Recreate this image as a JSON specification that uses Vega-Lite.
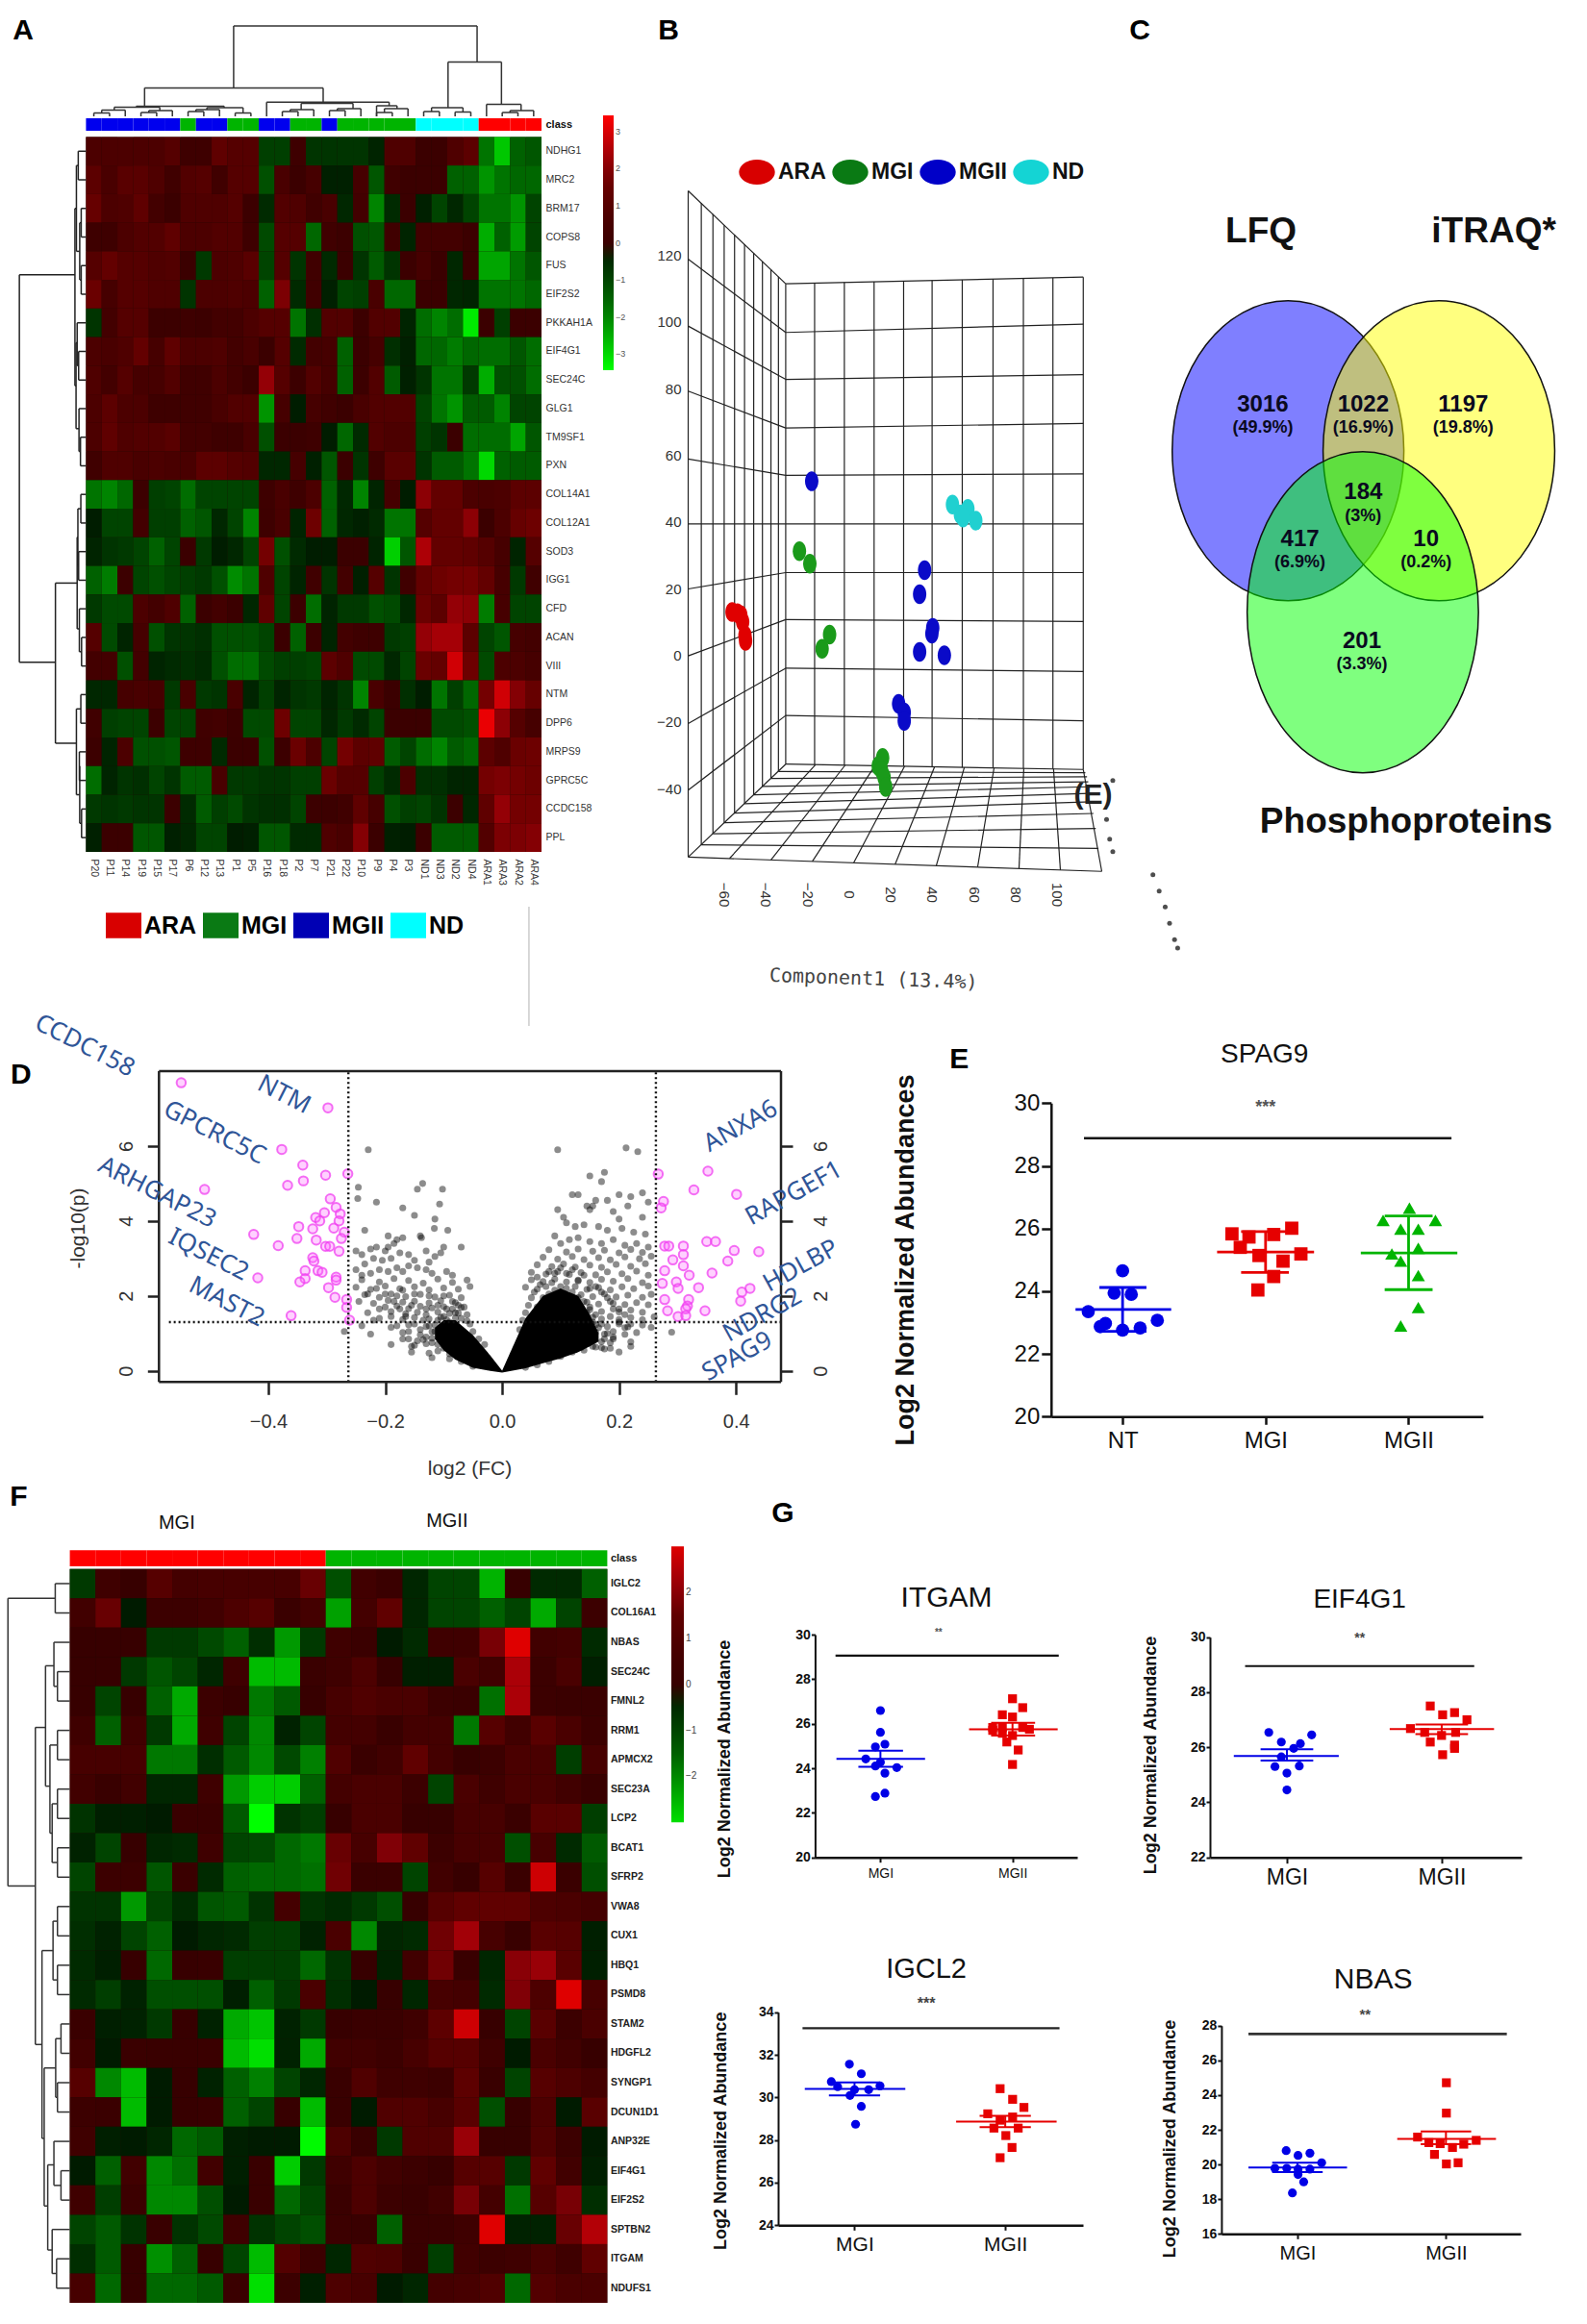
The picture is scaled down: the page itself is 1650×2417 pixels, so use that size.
{"$schema":"https://vega.github.io/schema/vega-lite/v6.json","width":1650,"height":2417,"padding":0,"autosize":"none","background":"white","config":{"view":{"stroke":null},"font":"Liberation Sans","axis":{"grid":false,"labelOverlap":false,"labelFlush":false,"labelColor":"#111","titleColor":"#111"}},"resolve":{"scale":{"x":"independent","y":"independent","color":"independent","shape":"independent"},"axis":{"x":"independent","y":"independent"},"legend":{"color":"independent","shape":"independent"}},"layer":[
{"data":{"values":[{"a":0,"b":29,"c":0,"d":25}]},"mark":{"type":"rect","color":"#1c0a04"},"encoding":{"x":{"field":"a","type":"quantitative","scale":{"domain":[0,29],"range":[89.4,563],"nice":false,"zero":false},"axis":null},"x2":{"field":"b"},"y":{"field":"c","type":"quantitative","scale":{"domain":[0,25],"range":[142.4,886],"nice":false,"zero":false},"axis":null},"y2":{"field":"d"}}},
{"data":{"values":[
{"g":"NDHG1","s":"P20","v":0.7},{"g":"NDHG1","s":"P11","v":0.7},{"g":"NDHG1","s":"P14","v":0.7},{"g":"NDHG1","s":"P19","v":0.7},{"g":"NDHG1","s":"P15","v":0.7},{"g":"NDHG1","s":"P17","v":1},{"g":"NDHG1","s":"P6","v":0.2},{"g":"NDHG1","s":"P12","v":0.2},{"g":"NDHG1","s":"P13","v":1.3},{"g":"NDHG1","s":"P1","v":1},{"g":"NDHG1","s":"P5","v":1},{"g":"NDHG1","s":"P16","v":-0.9},{"g":"NDHG1","s":"P18","v":-0.9},{"g":"NDHG1","s":"P2","v":0.2},{"g":"NDHG1","s":"P7","v":-0.7},{"g":"NDHG1","s":"P21","v":-0.7},{"g":"NDHG1","s":"P22","v":-0.7},{"g":"NDHG1","s":"P10","v":-0.7},{"g":"NDHG1","s":"P9","v":-0.3},{"g":"NDHG1","s":"P4","v":0.8},{"g":"NDHG1","s":"P3","v":0.8},{"g":"NDHG1","s":"ND1","v":0},{"g":"NDHG1","s":"ND3","v":0},{"g":"NDHG1","s":"ND2","v":0.8},{"g":"NDHG1","s":"ND4","v":1.2},{"g":"NDHG1","s":"ARA1","v":-1.8},{"g":"NDHG1","s":"ARA3","v":-2.8},{"g":"NDHG1","s":"ARA2","v":-1.5},{"g":"NDHG1","s":"ARA4","v":-1.3},
{"g":"MRC2","s":"P20","v":1.2},{"g":"MRC2","s":"P11","v":0.6},{"g":"MRC2","s":"P14","v":1.1},{"g":"MRC2","s":"P19","v":1.1},{"g":"MRC2","s":"P15","v":0.8},{"g":"MRC2","s":"P17","v":0.3},{"g":"MRC2","s":"P6","v":0.9},{"g":"MRC2","s":"P12","v":1},{"g":"MRC2","s":"P13","v":0.3},{"g":"MRC2","s":"P1","v":1},{"g":"MRC2","s":"P5","v":1},{"g":"MRC2","s":"P16","v":-1.2},{"g":"MRC2","s":"P18","v":0.6},{"g":"MRC2","s":"P2","v":0},{"g":"MRC2","s":"P7","v":0.5},{"g":"MRC2","s":"P21","v":-0.2},{"g":"MRC2","s":"P22","v":-0.2},{"g":"MRC2","s":"P10","v":0.5},{"g":"MRC2","s":"P9","v":-1.3},{"g":"MRC2","s":"P4","v":0.3},{"g":"MRC2","s":"P3","v":0},{"g":"MRC2","s":"ND1","v":0},{"g":"MRC2","s":"ND3","v":0},{"g":"MRC2","s":"ND2","v":-1.5},{"g":"MRC2","s":"ND4","v":-1.5},{"g":"MRC2","s":"ARA1","v":-2.2},{"g":"MRC2","s":"ARA3","v":-1.8},{"g":"MRC2","s":"ARA2","v":-1.6},{"g":"MRC2","s":"ARA4","v":-1.6},
{"g":"BRM17","s":"P20","v":1.5},{"g":"BRM17","s":"P11","v":0.7},{"g":"BRM17","s":"P14","v":0.8},{"g":"BRM17","s":"P19","v":1.3},{"g":"BRM17","s":"P15","v":0.4},{"g":"BRM17","s":"P17","v":0},{"g":"BRM17","s":"P6","v":0.8},{"g":"BRM17","s":"P12","v":0.8},{"g":"BRM17","s":"P13","v":0.8},{"g":"BRM17","s":"P1","v":1},{"g":"BRM17","s":"P5","v":0.1},{"g":"BRM17","s":"P16","v":-0.5},{"g":"BRM17","s":"P18","v":0.9},{"g":"BRM17","s":"P2","v":0.8},{"g":"BRM17","s":"P7","v":0.3},{"g":"BRM17","s":"P21","v":0.6},{"g":"BRM17","s":"P22","v":-0.4},{"g":"BRM17","s":"P10","v":0.4},{"g":"BRM17","s":"P9","v":-2},{"g":"BRM17","s":"P4","v":-0.5},{"g":"BRM17","s":"P3","v":0},{"g":"BRM17","s":"ND1","v":-0.2},{"g":"BRM17","s":"ND3","v":-1},{"g":"BRM17","s":"ND2","v":-0.4},{"g":"BRM17","s":"ND4","v":-1},{"g":"BRM17","s":"ARA1","v":-1.8},{"g":"BRM17","s":"ARA3","v":-1.8},{"g":"BRM17","s":"ARA2","v":-2.2},{"g":"BRM17","s":"ARA4","v":-1},
{"g":"COPS8","s":"P20","v":0.2},{"g":"COPS8","s":"P11","v":0.2},{"g":"COPS8","s":"P14","v":0.7},{"g":"COPS8","s":"P19","v":0.9},{"g":"COPS8","s":"P15","v":0.9},{"g":"COPS8","s":"P17","v":1.3},{"g":"COPS8","s":"P6","v":0.7},{"g":"COPS8","s":"P12","v":0.7},{"g":"COPS8","s":"P13","v":0.9},{"g":"COPS8","s":"P1","v":0.9},{"g":"COPS8","s":"P5","v":0.2},{"g":"COPS8","s":"P16","v":-1.1},{"g":"COPS8","s":"P18","v":1},{"g":"COPS8","s":"P2","v":1},{"g":"COPS8","s":"P7","v":-1.6},{"g":"COPS8","s":"P21","v":0.3},{"g":"COPS8","s":"P22","v":0.1},{"g":"COPS8","s":"P10","v":-1.2},{"g":"COPS8","s":"P9","v":-1.3},{"g":"COPS8","s":"P4","v":0.3},{"g":"COPS8","s":"P3","v":-0.3},{"g":"COPS8","s":"ND1","v":0.4},{"g":"COPS8","s":"ND3","v":0.4},{"g":"COPS8","s":"ND2","v":0.4},{"g":"COPS8","s":"ND4","v":0.1},{"g":"COPS8","s":"ARA1","v":-2.5},{"g":"COPS8","s":"ARA3","v":-1.5},{"g":"COPS8","s":"ARA2","v":-2.3},{"g":"COPS8","s":"ARA4","v":-1},
{"g":"FUS","s":"P20","v":1},{"g":"FUS","s":"P11","v":1.4},{"g":"FUS","s":"P14","v":1},{"g":"FUS","s":"P19","v":1},{"g":"FUS","s":"P15","v":0.8},{"g":"FUS","s":"P17","v":0.9},{"g":"FUS","s":"P6","v":0},{"g":"FUS","s":"P12","v":-0.8},{"g":"FUS","s":"P13","v":0.7},{"g":"FUS","s":"P1","v":0.8},{"g":"FUS","s":"P5","v":1.1},{"g":"FUS","s":"P16","v":-1},{"g":"FUS","s":"P18","v":1},{"g":"FUS","s":"P2","v":-0.7},{"g":"FUS","s":"P7","v":0.3},{"g":"FUS","s":"P21","v":-0.5},{"g":"FUS","s":"P22","v":0},{"g":"FUS","s":"P10","v":-0.7},{"g":"FUS","s":"P9","v":-1.4},{"g":"FUS","s":"P4","v":-0.7},{"g":"FUS","s":"P3","v":0.1},{"g":"FUS","s":"ND1","v":0.5},{"g":"FUS","s":"ND3","v":0},{"g":"FUS","s":"ND2","v":-0.4},{"g":"FUS","s":"ND4","v":0},{"g":"FUS","s":"ARA1","v":-2.4},{"g":"FUS","s":"ARA3","v":-2.4},{"g":"FUS","s":"ARA2","v":-1.8},{"g":"FUS","s":"ARA4","v":-1.3},
{"g":"EIF2S2","s":"P20","v":1.6},{"g":"EIF2S2","s":"P11","v":0.5},{"g":"EIF2S2","s":"P14","v":1},{"g":"EIF2S2","s":"P19","v":1},{"g":"EIF2S2","s":"P15","v":0.8},{"g":"EIF2S2","s":"P17","v":0.8},{"g":"EIF2S2","s":"P6","v":-0.7},{"g":"EIF2S2","s":"P12","v":0.7},{"g":"EIF2S2","s":"P13","v":0.7},{"g":"EIF2S2","s":"P1","v":0.8},{"g":"EIF2S2","s":"P5","v":0.7},{"g":"EIF2S2","s":"P16","v":-1.5},{"g":"EIF2S2","s":"P18","v":1.9},{"g":"EIF2S2","s":"P2","v":-0.5},{"g":"EIF2S2","s":"P7","v":0.3},{"g":"EIF2S2","s":"P21","v":-0.2},{"g":"EIF2S2","s":"P22","v":-1},{"g":"EIF2S2","s":"P10","v":-0.9},{"g":"EIF2S2","s":"P9","v":0.6},{"g":"EIF2S2","s":"P4","v":-1.6},{"g":"EIF2S2","s":"P3","v":-1.6},{"g":"EIF2S2","s":"ND1","v":0},{"g":"EIF2S2","s":"ND3","v":0},{"g":"EIF2S2","s":"ND2","v":-0.4},{"g":"EIF2S2","s":"ND4","v":-0.3},{"g":"EIF2S2","s":"ARA1","v":-1.8},{"g":"EIF2S2","s":"ARA3","v":-1.8},{"g":"EIF2S2","s":"ARA2","v":-1.8},{"g":"EIF2S2","s":"ARA4","v":-1.6},
{"g":"PKKAH1A","s":"P20","v":-0.7},{"g":"PKKAH1A","s":"P11","v":0.4},{"g":"PKKAH1A","s":"P14","v":1},{"g":"PKKAH1A","s":"P19","v":1},{"g":"PKKAH1A","s":"P15","v":0.1},{"g":"PKKAH1A","s":"P17","v":0.1},{"g":"PKKAH1A","s":"P6","v":0.2},{"g":"PKKAH1A","s":"P12","v":0.1},{"g":"PKKAH1A","s":"P13","v":0.4},{"g":"PKKAH1A","s":"P1","v":0.4},{"g":"PKKAH1A","s":"P5","v":0.7},{"g":"PKKAH1A","s":"P16","v":1},{"g":"PKKAH1A","s":"P18","v":1},{"g":"PKKAH1A","s":"P2","v":-1.8},{"g":"PKKAH1A","s":"P7","v":-0.6},{"g":"PKKAH1A","s":"P21","v":0.9},{"g":"PKKAH1A","s":"P22","v":0.9},{"g":"PKKAH1A","s":"P10","v":0.1},{"g":"PKKAH1A","s":"P9","v":0.9},{"g":"PKKAH1A","s":"P4","v":0.9},{"g":"PKKAH1A","s":"P3","v":-0.3},{"g":"PKKAH1A","s":"ND1","v":-1.7},{"g":"PKKAH1A","s":"ND3","v":-2},{"g":"PKKAH1A","s":"ND2","v":-1.7},{"g":"PKKAH1A","s":"ND4","v":-3.2},{"g":"PKKAH1A","s":"ARA1","v":0},{"g":"PKKAH1A","s":"ARA3","v":-0.9},{"g":"PKKAH1A","s":"ARA2","v":0},{"g":"PKKAH1A","s":"ARA4","v":0},
{"g":"EIF4G1","s":"P20","v":0.7},{"g":"EIF4G1","s":"P11","v":0.6},{"g":"EIF4G1","s":"P14","v":0.8},{"g":"EIF4G1","s":"P19","v":1.4},{"g":"EIF4G1","s":"P15","v":0.5},{"g":"EIF4G1","s":"P17","v":1.3},{"g":"EIF4G1","s":"P6","v":0.7},{"g":"EIF4G1","s":"P12","v":0.7},{"g":"EIF4G1","s":"P13","v":0.8},{"g":"EIF4G1","s":"P1","v":0.4},{"g":"EIF4G1","s":"P5","v":0.6},{"g":"EIF4G1","s":"P16","v":0},{"g":"EIF4G1","s":"P18","v":1},{"g":"EIF4G1","s":"P2","v":-0.5},{"g":"EIF4G1","s":"P7","v":0.4},{"g":"EIF4G1","s":"P21","v":0.5},{"g":"EIF4G1","s":"P22","v":-1.5},{"g":"EIF4G1","s":"P10","v":0},{"g":"EIF4G1","s":"P9","v":0.5},{"g":"EIF4G1","s":"P4","v":-0.6},{"g":"EIF4G1","s":"P3","v":-0.2},{"g":"EIF4G1","s":"ND1","v":-1.6},{"g":"EIF4G1","s":"ND3","v":-1.6},{"g":"EIF4G1","s":"ND2","v":-1.9},{"g":"EIF4G1","s":"ND4","v":-1.6},{"g":"EIF4G1","s":"ARA1","v":-1.7},{"g":"EIF4G1","s":"ARA3","v":-1.7},{"g":"EIF4G1","s":"ARA2","v":-1.3},{"g":"EIF4G1","s":"ARA4","v":-1.7},
{"g":"SEC24C","s":"P20","v":0.8},{"g":"SEC24C","s":"P11","v":0.4},{"g":"SEC24C","s":"P14","v":1},{"g":"SEC24C","s":"P19","v":0.5},{"g":"SEC24C","s":"P15","v":0.5},{"g":"SEC24C","s":"P17","v":0.9},{"g":"SEC24C","s":"P6","v":0.3},{"g":"SEC24C","s":"P12","v":0.3},{"g":"SEC24C","s":"P13","v":0.7},{"g":"SEC24C","s":"P1","v":0.4},{"g":"SEC24C","s":"P5","v":0},{"g":"SEC24C","s":"P16","v":2.2},{"g":"SEC24C","s":"P18","v":1},{"g":"SEC24C","s":"P2","v":0.1},{"g":"SEC24C","s":"P7","v":0.9},{"g":"SEC24C","s":"P21","v":0.5},{"g":"SEC24C","s":"P22","v":-1.5},{"g":"SEC24C","s":"P10","v":0.1},{"g":"SEC24C","s":"P9","v":0.9},{"g":"SEC24C","s":"P4","v":-1.4},{"g":"SEC24C","s":"P3","v":-0.2},{"g":"SEC24C","s":"ND1","v":-0.7},{"g":"SEC24C","s":"ND3","v":-1.8},{"g":"SEC24C","s":"ND2","v":-1.8},{"g":"SEC24C","s":"ND4","v":-0.8},{"g":"SEC24C","s":"ARA1","v":-2.5},{"g":"SEC24C","s":"ARA3","v":-1.2},{"g":"SEC24C","s":"ARA2","v":-1.2},{"g":"SEC24C","s":"ARA4","v":-1.7},
{"g":"GLG1","s":"P20","v":0.7},{"g":"GLG1","s":"P11","v":1.2},{"g":"GLG1","s":"P14","v":0.7},{"g":"GLG1","s":"P19","v":0.7},{"g":"GLG1","s":"P15","v":0.2},{"g":"GLG1","s":"P17","v":0.2},{"g":"GLG1","s":"P6","v":0.3},{"g":"GLG1","s":"P12","v":0.3},{"g":"GLG1","s":"P13","v":0.6},{"g":"GLG1","s":"P1","v":0.9},{"g":"GLG1","s":"P5","v":0.9},{"g":"GLG1","s":"P16","v":-2.2},{"g":"GLG1","s":"P18","v":0.5},{"g":"GLG1","s":"P2","v":-0.1},{"g":"GLG1","s":"P7","v":0.5},{"g":"GLG1","s":"P21","v":0.3},{"g":"GLG1","s":"P22","v":0},{"g":"GLG1","s":"P10","v":0.6},{"g":"GLG1","s":"P9","v":0.9},{"g":"GLG1","s":"P4","v":0.9},{"g":"GLG1","s":"P3","v":0.9},{"g":"GLG1","s":"ND1","v":-1},{"g":"GLG1","s":"ND3","v":-1.8},{"g":"GLG1","s":"ND2","v":-2.2},{"g":"GLG1","s":"ND4","v":-1.4},{"g":"GLG1","s":"ARA1","v":-1.4},{"g":"GLG1","s":"ARA3","v":-2},{"g":"GLG1","s":"ARA2","v":-1},{"g":"GLG1","s":"ARA4","v":-1},
{"g":"TM9SF1","s":"P20","v":0.7},{"g":"TM9SF1","s":"P11","v":1.3},{"g":"TM9SF1","s":"P14","v":0.8},{"g":"TM9SF1","s":"P19","v":0.9},{"g":"TM9SF1","s":"P15","v":0.9},{"g":"TM9SF1","s":"P17","v":1.1},{"g":"TM9SF1","s":"P6","v":0.4},{"g":"TM9SF1","s":"P12","v":0.4},{"g":"TM9SF1","s":"P13","v":0.2},{"g":"TM9SF1","s":"P1","v":0.2},{"g":"TM9SF1","s":"P5","v":0.6},{"g":"TM9SF1","s":"P16","v":-1.2},{"g":"TM9SF1","s":"P18","v":0},{"g":"TM9SF1","s":"P2","v":0},{"g":"TM9SF1","s":"P7","v":0.2},{"g":"TM9SF1","s":"P21","v":-0.1},{"g":"TM9SF1","s":"P22","v":-1.6},{"g":"TM9SF1","s":"P10","v":-0.5},{"g":"TM9SF1","s":"P9","v":0.9},{"g":"TM9SF1","s":"P4","v":0.7},{"g":"TM9SF1","s":"P3","v":0.7},{"g":"TM9SF1","s":"ND1","v":-0.9},{"g":"TM9SF1","s":"ND3","v":-0.7},{"g":"TM9SF1","s":"ND2","v":0},{"g":"TM9SF1","s":"ND4","v":-1.7},{"g":"TM9SF1","s":"ARA1","v":-1.7},{"g":"TM9SF1","s":"ARA3","v":-1.7},{"g":"TM9SF1","s":"ARA2","v":-2.4},{"g":"TM9SF1","s":"ARA4","v":-1.3},
{"g":"PXN","s":"P20","v":0.3},{"g":"PXN","s":"P11","v":0.8},{"g":"PXN","s":"P14","v":0.8},{"g":"PXN","s":"P19","v":0.6},{"g":"PXN","s":"P15","v":0.7},{"g":"PXN","s":"P17","v":0.6},{"g":"PXN","s":"P6","v":0.6},{"g":"PXN","s":"P12","v":1.2},{"g":"PXN","s":"P13","v":1.2},{"g":"PXN","s":"P1","v":1},{"g":"PXN","s":"P5","v":0.9},{"g":"PXN","s":"P16","v":-0.4},{"g":"PXN","s":"P18","v":-0.4},{"g":"PXN","s":"P2","v":0.5},{"g":"PXN","s":"P7","v":-0.2},{"g":"PXN","s":"P21","v":-1.3},{"g":"PXN","s":"P22","v":0},{"g":"PXN","s":"P10","v":-0.7},{"g":"PXN","s":"P9","v":0.2},{"g":"PXN","s":"P4","v":1.1},{"g":"PXN","s":"P3","v":1.1},{"g":"PXN","s":"ND1","v":-0.7},{"g":"PXN","s":"ND3","v":-1.4},{"g":"PXN","s":"ND2","v":-1.4},{"g":"PXN","s":"ND4","v":-1.8},{"g":"PXN","s":"ARA1","v":-3},{"g":"PXN","s":"ARA3","v":-1.5},{"g":"PXN","s":"ARA2","v":-1.4},{"g":"PXN","s":"ARA4","v":-1.4},
{"g":"COL14A1","s":"P20","v":-1.8},{"g":"COL14A1","s":"P11","v":-2},{"g":"COL14A1","s":"P14","v":-1.6},{"g":"COL14A1","s":"P19","v":0.1},{"g":"COL14A1","s":"P15","v":-0.9},{"g":"COL14A1","s":"P17","v":-1},{"g":"COL14A1","s":"P6","v":-1.7},{"g":"COL14A1","s":"P12","v":-1},{"g":"COL14A1","s":"P13","v":-1},{"g":"COL14A1","s":"P1","v":-1},{"g":"COL14A1","s":"P5","v":-1},{"g":"COL14A1","s":"P16","v":0.2},{"g":"COL14A1","s":"P18","v":0.6},{"g":"COL14A1","s":"P2","v":0.2},{"g":"COL14A1","s":"P7","v":0.7},{"g":"COL14A1","s":"P21","v":-1.5},{"g":"COL14A1","s":"P22","v":-0.4},{"g":"COL14A1","s":"P10","v":-2},{"g":"COL14A1","s":"P9","v":-0.3},{"g":"COL14A1","s":"P4","v":0.5},{"g":"COL14A1","s":"P3","v":-0.1},{"g":"COL14A1","s":"ND1","v":2.1},{"g":"COL14A1","s":"ND3","v":1.4},{"g":"COL14A1","s":"ND2","v":1.4},{"g":"COL14A1","s":"ND4","v":0.7},{"g":"COL14A1","s":"ARA1","v":0.6},{"g":"COL14A1","s":"ARA3","v":0.7},{"g":"COL14A1","s":"ARA2","v":1.2},{"g":"COL14A1","s":"ARA4","v":1.2},
{"g":"COL12A1","s":"P20","v":-0.1},{"g":"COL12A1","s":"P11","v":-1},{"g":"COL12A1","s":"P14","v":-1},{"g":"COL12A1","s":"P19","v":0.4},{"g":"COL12A1","s":"P15","v":-0.9},{"g":"COL12A1","s":"P17","v":-0.9},{"g":"COL12A1","s":"P6","v":-1.5},{"g":"COL12A1","s":"P12","v":-1.3},{"g":"COL12A1","s":"P13","v":-0.4},{"g":"COL12A1","s":"P1","v":-1},{"g":"COL12A1","s":"P5","v":-2},{"g":"COL12A1","s":"P16","v":0.2},{"g":"COL12A1","s":"P18","v":0.6},{"g":"COL12A1","s":"P2","v":-0.3},{"g":"COL12A1","s":"P7","v":1.7},{"g":"COL12A1","s":"P21","v":-1.5},{"g":"COL12A1","s":"P22","v":-0.4},{"g":"COL12A1","s":"P10","v":-0.2},{"g":"COL12A1","s":"P9","v":-0.5},{"g":"COL12A1","s":"P4","v":-1.8},{"g":"COL12A1","s":"P3","v":-1.8},{"g":"COL12A1","s":"ND1","v":1},{"g":"COL12A1","s":"ND3","v":1.4},{"g":"COL12A1","s":"ND2","v":1.4},{"g":"COL12A1","s":"ND4","v":2.1},{"g":"COL12A1","s":"ARA1","v":0},{"g":"COL12A1","s":"ARA3","v":0.7},{"g":"COL12A1","s":"ARA2","v":1.5},{"g":"COL12A1","s":"ARA4","v":1.7},
{"g":"SOD3","s":"P20","v":-0.3},{"g":"SOD3","s":"P11","v":-0.7},{"g":"SOD3","s":"P14","v":-0.8},{"g":"SOD3","s":"P19","v":-1},{"g":"SOD3","s":"P15","v":-1.5},{"g":"SOD3","s":"P17","v":-1},{"g":"SOD3","s":"P6","v":0},{"g":"SOD3","s":"P12","v":-0.8},{"g":"SOD3","s":"P13","v":-0.1},{"g":"SOD3","s":"P1","v":-0.4},{"g":"SOD3","s":"P5","v":-1},{"g":"SOD3","s":"P16","v":1.8},{"g":"SOD3","s":"P18","v":-1.2},{"g":"SOD3","s":"P2","v":-0.5},{"g":"SOD3","s":"P7","v":-0.1},{"g":"SOD3","s":"P21","v":-0.1},{"g":"SOD3","s":"P22","v":0},{"g":"SOD3","s":"P10","v":0},{"g":"SOD3","s":"P9","v":-0.3},{"g":"SOD3","s":"P4","v":-2.9},{"g":"SOD3","s":"P3","v":-1.3},{"g":"SOD3","s":"ND1","v":2.5},{"g":"SOD3","s":"ND3","v":1.4},{"g":"SOD3","s":"ND2","v":1.4},{"g":"SOD3","s":"ND4","v":1.3},{"g":"SOD3","s":"ARA1","v":1},{"g":"SOD3","s":"ARA3","v":0.5},{"g":"SOD3","s":"ARA2","v":-0.3},{"g":"SOD3","s":"ARA4","v":1},
{"g":"IGG1","s":"P20","v":-1.5},{"g":"IGG1","s":"P11","v":-1.9},{"g":"IGG1","s":"P14","v":0.1},{"g":"IGG1","s":"P19","v":-1},{"g":"IGG1","s":"P15","v":-1.2},{"g":"IGG1","s":"P17","v":-1},{"g":"IGG1","s":"P6","v":-0.9},{"g":"IGG1","s":"P12","v":-0.8},{"g":"IGG1","s":"P13","v":-1.2},{"g":"IGG1","s":"P1","v":-2.1},{"g":"IGG1","s":"P5","v":-1.8},{"g":"IGG1","s":"P16","v":0.8},{"g":"IGG1","s":"P18","v":-1},{"g":"IGG1","s":"P2","v":-0.3},{"g":"IGG1","s":"P7","v":0.3},{"g":"IGG1","s":"P21","v":-0.7},{"g":"IGG1","s":"P22","v":0.4},{"g":"IGG1","s":"P10","v":-0.2},{"g":"IGG1","s":"P9","v":1},{"g":"IGG1","s":"P4","v":-0.7},{"g":"IGG1","s":"P3","v":0.3},{"g":"IGG1","s":"ND1","v":1.4},{"g":"IGG1","s":"ND3","v":1.7},{"g":"IGG1","s":"ND2","v":1.8},{"g":"IGG1","s":"ND4","v":1.8},{"g":"IGG1","s":"ARA1","v":1.4},{"g":"IGG1","s":"ARA3","v":0.5},{"g":"IGG1","s":"ARA2","v":-0.8},{"g":"IGG1","s":"ARA4","v":0.3},
{"g":"CFD","s":"P20","v":-0.8},{"g":"CFD","s":"P11","v":-1.1},{"g":"CFD","s":"P14","v":-1.1},{"g":"CFD","s":"P19","v":0.7},{"g":"CFD","s":"P15","v":0.4},{"g":"CFD","s":"P17","v":0.8},{"g":"CFD","s":"P6","v":-1.5},{"g":"CFD","s":"P12","v":0},{"g":"CFD","s":"P13","v":0.4},{"g":"CFD","s":"P1","v":0},{"g":"CFD","s":"P5","v":-0.4},{"g":"CFD","s":"P16","v":1.3},{"g":"CFD","s":"P18","v":-1},{"g":"CFD","s":"P2","v":0.1},{"g":"CFD","s":"P7","v":-1.7},{"g":"CFD","s":"P21","v":-0.3},{"g":"CFD","s":"P22","v":-0.8},{"g":"CFD","s":"P10","v":-0.8},{"g":"CFD","s":"P9","v":-1.2},{"g":"CFD","s":"P4","v":-1.1},{"g":"CFD","s":"P3","v":-0.4},{"g":"CFD","s":"ND1","v":1.6},{"g":"CFD","s":"ND3","v":1.2},{"g":"CFD","s":"ND2","v":2.2},{"g":"CFD","s":"ND4","v":2.1},{"g":"CFD","s":"ARA1","v":-1.9},{"g":"CFD","s":"ARA3","v":0.5},{"g":"CFD","s":"ARA2","v":-1},{"g":"CFD","s":"ARA4","v":-1},
{"g":"ACAN","s":"P20","v":1},{"g":"ACAN","s":"P11","v":-1.1},{"g":"ACAN","s":"P14","v":-0.3},{"g":"ACAN","s":"P19","v":0.5},{"g":"ACAN","s":"P15","v":-1.2},{"g":"ACAN","s":"P17","v":-0.7},{"g":"ACAN","s":"P6","v":-0.7},{"g":"ACAN","s":"P12","v":-0.6},{"g":"ACAN","s":"P13","v":-1.2},{"g":"ACAN","s":"P1","v":-1.2},{"g":"ACAN","s":"P5","v":-1.2},{"g":"ACAN","s":"P16","v":-1},{"g":"ACAN","s":"P18","v":0},{"g":"ACAN","s":"P2","v":-1.5},{"g":"ACAN","s":"P7","v":0.1},{"g":"ACAN","s":"P21","v":-0.3},{"g":"ACAN","s":"P22","v":0.4},{"g":"ACAN","s":"P10","v":0.2},{"g":"ACAN","s":"P9","v":0.2},{"g":"ACAN","s":"P4","v":-0.8},{"g":"ACAN","s":"P3","v":-0.9},{"g":"ACAN","s":"ND1","v":2.2},{"g":"ACAN","s":"ND3","v":2.4},{"g":"ACAN","s":"ND2","v":2.4},{"g":"ACAN","s":"ND4","v":1.2},{"g":"ACAN","s":"ARA1","v":-1},{"g":"ACAN","s":"ARA3","v":-1.3},{"g":"ACAN","s":"ARA2","v":0.5},{"g":"ACAN","s":"ARA4","v":0.4},
{"g":"VIII","s":"P20","v":0.4},{"g":"VIII","s":"P11","v":0.4},{"g":"VIII","s":"P14","v":-1.2},{"g":"VIII","s":"P19","v":0.4},{"g":"VIII","s":"P15","v":-0.3},{"g":"VIII","s":"P17","v":-0.5},{"g":"VIII","s":"P6","v":-0.6},{"g":"VIII","s":"P12","v":-0.5},{"g":"VIII","s":"P13","v":-1.2},{"g":"VIII","s":"P1","v":-1.7},{"g":"VIII","s":"P5","v":-1.7},{"g":"VIII","s":"P16","v":-1.1},{"g":"VIII","s":"P18","v":-0.9},{"g":"VIII","s":"P2","v":-0.9},{"g":"VIII","s":"P7","v":-1},{"g":"VIII","s":"P21","v":1.2},{"g":"VIII","s":"P22","v":0.8},{"g":"VIII","s":"P10","v":-1.1},{"g":"VIII","s":"P9","v":-1.1},{"g":"VIII","s":"P4","v":-0.4},{"g":"VIII","s":"P3","v":-1},{"g":"VIII","s":"ND1","v":1.6},{"g":"VIII","s":"ND3","v":1.4},{"g":"VIII","s":"ND2","v":2.9},{"g":"VIII","s":"ND4","v":1.7},{"g":"VIII","s":"ARA1","v":-1.1},{"g":"VIII","s":"ARA3","v":0.7},{"g":"VIII","s":"ARA2","v":0.7},{"g":"VIII","s":"ARA4","v":0.5},
{"g":"NTM","s":"P20","v":-0.4},{"g":"NTM","s":"P11","v":-0.4},{"g":"NTM","s":"P14","v":0.5},{"g":"NTM","s":"P19","v":0.6},{"g":"NTM","s":"P15","v":0.5},{"g":"NTM","s":"P17","v":-0.8},{"g":"NTM","s":"P6","v":0.6},{"g":"NTM","s":"P12","v":-0.8},{"g":"NTM","s":"P13","v":-0.7},{"g":"NTM","s":"P1","v":0.6},{"g":"NTM","s":"P5","v":-0.3},{"g":"NTM","s":"P16","v":-0.9},{"g":"NTM","s":"P18","v":-0.3},{"g":"NTM","s":"P2","v":-0.7},{"g":"NTM","s":"P7","v":-0.8},{"g":"NTM","s":"P21","v":-0.3},{"g":"NTM","s":"P22","v":-0.7},{"g":"NTM","s":"P10","v":-2},{"g":"NTM","s":"P9","v":0.6},{"g":"NTM","s":"P4","v":0},{"g":"NTM","s":"P3","v":-0.6},{"g":"NTM","s":"ND1","v":-0.1},{"g":"NTM","s":"ND3","v":-1.8},{"g":"NTM","s":"ND2","v":-0.9},{"g":"NTM","s":"ND4","v":-1.6},{"g":"NTM","s":"ARA1","v":1.8},{"g":"NTM","s":"ARA3","v":2.9},{"g":"NTM","s":"ARA2","v":2},{"g":"NTM","s":"ARA4","v":1.5},
{"g":"DPP6","s":"P20","v":0.3},{"g":"DPP6","s":"P11","v":-0.9},{"g":"DPP6","s":"P14","v":-1},{"g":"DPP6","s":"P19","v":-1},{"g":"DPP6","s":"P15","v":0.1},{"g":"DPP6","s":"P17","v":-1},{"g":"DPP6","s":"P6","v":-1},{"g":"DPP6","s":"P12","v":0.3},{"g":"DPP6","s":"P13","v":0.4},{"g":"DPP6","s":"P1","v":0.1},{"g":"DPP6","s":"P5","v":-1.1},{"g":"DPP6","s":"P16","v":-1.1},{"g":"DPP6","s":"P18","v":1.7},{"g":"DPP6","s":"P2","v":-1},{"g":"DPP6","s":"P7","v":-1},{"g":"DPP6","s":"P21","v":-0.4},{"g":"DPP6","s":"P22","v":-0.8},{"g":"DPP6","s":"P10","v":-0.5},{"g":"DPP6","s":"P9","v":-1},{"g":"DPP6","s":"P4","v":0},{"g":"DPP6","s":"P3","v":0},{"g":"DPP6","s":"ND1","v":0},{"g":"DPP6","s":"ND3","v":-1.1},{"g":"DPP6","s":"ND2","v":-1.1},{"g":"DPP6","s":"ND4","v":-1.2},{"g":"DPP6","s":"ARA1","v":3.2},{"g":"DPP6","s":"ARA3","v":2.1},{"g":"DPP6","s":"ARA2","v":1},{"g":"DPP6","s":"ARA4","v":0.5},
{"g":"MRPS9","s":"P20","v":0.1},{"g":"MRPS9","s":"P11","v":-0.3},{"g":"MRPS9","s":"P14","v":0.7},{"g":"MRPS9","s":"P19","v":-1.2},{"g":"MRPS9","s":"P15","v":-1.2},{"g":"MRPS9","s":"P17","v":-1.3},{"g":"MRPS9","s":"P6","v":0.2},{"g":"MRPS9","s":"P12","v":0.2},{"g":"MRPS9","s":"P13","v":-0.5},{"g":"MRPS9","s":"P1","v":0},{"g":"MRPS9","s":"P5","v":0},{"g":"MRPS9","s":"P16","v":-1.2},{"g":"MRPS9","s":"P18","v":0.1},{"g":"MRPS9","s":"P2","v":1.6},{"g":"MRPS9","s":"P7","v":0.7},{"g":"MRPS9","s":"P21","v":-1},{"g":"MRPS9","s":"P22","v":1.8},{"g":"MRPS9","s":"P10","v":1.2},{"g":"MRPS9","s":"P9","v":1.3},{"g":"MRPS9","s":"P4","v":-1.4},{"g":"MRPS9","s":"P3","v":-1},{"g":"MRPS9","s":"ND1","v":-1.7},{"g":"MRPS9","s":"ND3","v":-2},{"g":"MRPS9","s":"ND2","v":-1.4},{"g":"MRPS9","s":"ND4","v":-1.6},{"g":"MRPS9","s":"ARA1","v":1.2},{"g":"MRPS9","s":"ARA3","v":0.8},{"g":"MRPS9","s":"ARA2","v":1.6},{"g":"MRPS9","s":"ARA4","v":1.7},
{"g":"GPRC5C","s":"P20","v":-1.7},{"g":"GPRC5C","s":"P11","v":-0.3},{"g":"GPRC5C","s":"P14","v":-0.7},{"g":"GPRC5C","s":"P19","v":-0.6},{"g":"GPRC5C","s":"P15","v":-1},{"g":"GPRC5C","s":"P17","v":-0.7},{"g":"GPRC5C","s":"P6","v":-1.4},{"g":"GPRC5C","s":"P12","v":-1.4},{"g":"GPRC5C","s":"P13","v":0.6},{"g":"GPRC5C","s":"P1","v":-0.8},{"g":"GPRC5C","s":"P5","v":-0.8},{"g":"GPRC5C","s":"P16","v":-0.7},{"g":"GPRC5C","s":"P18","v":-0.7},{"g":"GPRC5C","s":"P2","v":-0.9},{"g":"GPRC5C","s":"P7","v":-0.9},{"g":"GPRC5C","s":"P21","v":1.6},{"g":"GPRC5C","s":"P22","v":1},{"g":"GPRC5C","s":"P10","v":1},{"g":"GPRC5C","s":"P9","v":-0.9},{"g":"GPRC5C","s":"P4","v":-0.5},{"g":"GPRC5C","s":"P3","v":0.7},{"g":"GPRC5C","s":"ND1","v":-0.6},{"g":"GPRC5C","s":"ND3","v":-0.6},{"g":"GPRC5C","s":"ND2","v":-0.3},{"g":"GPRC5C","s":"ND4","v":-0.3},{"g":"GPRC5C","s":"ARA1","v":1.8},{"g":"GPRC5C","s":"ARA3","v":1.9},{"g":"GPRC5C","s":"ARA2","v":1.8},{"g":"GPRC5C","s":"ARA4","v":1.7},
{"g":"CCDC158","s":"P20","v":-0.8},{"g":"CCDC158","s":"P11","v":-0.7},{"g":"CCDC158","s":"P14","v":-0.8},{"g":"CCDC158","s":"P19","v":-0.7},{"g":"CCDC158","s":"P15","v":-0.7},{"g":"CCDC158","s":"P17","v":0.1},{"g":"CCDC158","s":"P6","v":-0.5},{"g":"CCDC158","s":"P12","v":-1.4},{"g":"CCDC158","s":"P13","v":-0.9},{"g":"CCDC158","s":"P1","v":-1.1},{"g":"CCDC158","s":"P5","v":-0.7},{"g":"CCDC158","s":"P16","v":-0.6},{"g":"CCDC158","s":"P18","v":-0.6},{"g":"CCDC158","s":"P2","v":-1},{"g":"CCDC158","s":"P7","v":0.1},{"g":"CCDC158","s":"P21","v":0.1},{"g":"CCDC158","s":"P22","v":0.3},{"g":"CCDC158","s":"P10","v":1.3},{"g":"CCDC158","s":"P9","v":0.5},{"g":"CCDC158","s":"P4","v":-1.2},{"g":"CCDC158","s":"P3","v":-0.9},{"g":"CCDC158","s":"ND1","v":-1},{"g":"CCDC158","s":"ND3","v":-0.7},{"g":"CCDC158","s":"ND2","v":0.1},{"g":"CCDC158","s":"ND4","v":-0.4},{"g":"CCDC158","s":"ARA1","v":1.3},{"g":"CCDC158","s":"ARA3","v":2.2},{"g":"CCDC158","s":"ARA2","v":1.8},{"g":"CCDC158","s":"ARA4","v":1.8},
{"g":"PPL","s":"P20","v":-0.2},{"g":"PPL","s":"P11","v":0},{"g":"PPL","s":"P14","v":0},{"g":"PPL","s":"P19","v":-1.3},{"g":"PPL","s":"P15","v":-1.3},{"g":"PPL","s":"P17","v":-0.2},{"g":"PPL","s":"P6","v":-0.4},{"g":"PPL","s":"P12","v":-1},{"g":"PPL","s":"P13","v":-1},{"g":"PPL","s":"P1","v":-0.1},{"g":"PPL","s":"P5","v":-0.2},{"g":"PPL","s":"P16","v":-1.3},{"g":"PPL","s":"P18","v":-1.3},{"g":"PPL","s":"P2","v":-0.5},{"g":"PPL","s":"P7","v":-0.5},{"g":"PPL","s":"P21","v":0.8},{"g":"PPL","s":"P22","v":0.6},{"g":"PPL","s":"P10","v":2},{"g":"PPL","s":"P9","v":0},{"g":"PPL","s":"P4","v":-0.2},{"g":"PPL","s":"P3","v":-0.1},{"g":"PPL","s":"ND1","v":0},{"g":"PPL","s":"ND3","v":-1.4},{"g":"PPL","s":"ND2","v":-1.4},{"g":"PPL","s":"ND4","v":-1.4},{"g":"PPL","s":"ARA1","v":0.9},{"g":"PPL","s":"ARA3","v":1.9},{"g":"PPL","s":"ARA2","v":1.9},{"g":"PPL","s":"ARA4","v":2}
]},"mark":{"type":"rect"},"encoding":{"x":{"field":"s","type":"nominal","sort":null,"title":null,"scale":{"domain":["P20","P11","P14","P19","P15","P17","P6","P12","P13","P1","P5","P16","P18","P2","P7","P21","P22","P10","P9","P4","P3","ND1","ND3","ND2","ND4","ARA1","ARA3","ARA2","ARA4"],"range":[89.4,563],"paddingInner":0,"paddingOuter":0},"axis":{"orient":"bottom","offset":-1531,"domain":false,"ticks":false,"labelAngle":90,"labelAlign":"left","labelBaseline":"middle","labelFontSize":10.5,"labelPadding":7,"labelColor":"#333"}},"y":{"field":"g","type":"nominal","sort":null,"title":null,"scale":{"domain":["NDHG1","MRC2","BRM17","COPS8","FUS","EIF2S2","PKKAH1A","EIF4G1","SEC24C","GLG1","TM9SF1","PXN","COL14A1","COL12A1","SOD3","IGG1","CFD","ACAN","VIII","NTM","DPP6","MRPS9","GPRC5C","CCDC158","PPL"],"range":[142.4,886],"paddingInner":0,"paddingOuter":0},"axis":{"orient":"right","offset":-1087,"domain":false,"ticks":false,"labelFontSize":10.5,"labelPadding":4,"labelColor":"#333"}},"color":{"field":"v","type":"quantitative","scale":{"domain":[-3.44,-1.72,0,1.72,3.44],"range":["#00ff00","#006e00","#000000","#6e0000","#ff0000"]},"legend":{"orient":"none","legendX":627,"legendY":120,"direction":"vertical","title":null,"gradientLength":265,"gradientThickness":11,"values":[3,2,1,0,-1,-2,-3],"labelFontSize":9,"labelColor":"#555","labelOverlap":false}}}},
{"data":{"values":[{"c":"P20","k":"MGII","t":"class"},{"c":"P11","k":"MGII","t":"class"},{"c":"P14","k":"MGII","t":"class"},{"c":"P19","k":"MGII","t":"class"},{"c":"P15","k":"MGII","t":"class"},{"c":"P17","k":"MGII","t":"class"},{"c":"P6","k":"MGI","t":"class"},{"c":"P12","k":"MGII","t":"class"},{"c":"P13","k":"MGII","t":"class"},{"c":"P1","k":"MGI","t":"class"},{"c":"P5","k":"MGI","t":"class"},{"c":"P16","k":"MGII","t":"class"},{"c":"P18","k":"MGII","t":"class"},{"c":"P2","k":"MGI","t":"class"},{"c":"P7","k":"MGI","t":"class"},{"c":"P21","k":"MGII","t":"class"},{"c":"P22","k":"MGI","t":"class"},{"c":"P10","k":"MGI","t":"class"},{"c":"P9","k":"MGI","t":"class"},{"c":"P4","k":"MGI","t":"class"},{"c":"P3","k":"MGI","t":"class"},{"c":"ND1","k":"ND","t":"class"},{"c":"ND3","k":"ND","t":"class"},{"c":"ND2","k":"ND","t":"class"},{"c":"ND4","k":"ND","t":"class"},{"c":"ARA1","k":"ARA","t":"class"},{"c":"ARA3","k":"ARA","t":"class"},{"c":"ARA2","k":"ARA","t":"class"},{"c":"ARA4","k":"ARA","t":"class"}]},"mark":{"type":"rect"},"encoding":{"x":{"field":"c","type":"nominal","sort":null,"scale":{"domain":["P20","P11","P14","P19","P15","P17","P6","P12","P13","P1","P5","P16","P18","P2","P7","P21","P22","P10","P9","P4","P3","ND1","ND3","ND2","ND4","ARA1","ARA3","ARA2","ARA4"],"range":[89.4,563],"paddingInner":0,"paddingOuter":0},"axis":null},"y":{"field":"t","type":"nominal","title":null,"scale":{"domain":["class"],"range":[123,136],"paddingInner":0,"paddingOuter":0},"axis":{"orient":"right","offset":-1087,"domain":false,"ticks":false,"labelFontSize":11,"labelFontWeight":"bold","labelPadding":4}},"color":{"field":"k","type":"nominal","scale":{"domain":["ARA","MGI","MGII","ND"],"range":["#ff0000","#00b400","#0000ee","#00ffff"]},"legend":null}}},
{"data":{"values":[{"k":"ARA"},{"k":"MGI"},{"k":"MGII"},{"k":"ND"}]},"mark":{"type":"square","opacity":0},"encoding":{"color":{"field":"k","type":"nominal","scale":{"domain":["ARA","MGI","MGII","ND"],"range":["#d80000","#0a7a14","#0000b4","#00ffff"]},"legend":{"orient":"none","legendX":110,"legendY":944,"direction":"horizontal","columns":4,"title":null,"symbolType":"M-1,-0.72H1V0.72H-1Z","symbolSize":1369,"symbolOpacity":1,"symbolStrokeWidth":0,"labelFontSize":25,"labelFontWeight":"bold","labelColor":"#000","labelOffset":3,"columnPadding":6,"gridAlign":"none","labelLimit":200}}}},
{"data":{"values":[{"a":9.4,"b":24.9,"h":94,"l":29.6,"r":56.5},{"a":23.05,"b":26.45,"h":56.5,"l":9,"r":12.4},{"a":3.73,"b":15.1,"h":29.6,"l":10.5,"r":14.8},{"a":0.5,"b":1.5,"h":3.5,"l":0,"r":0},{"a":1,"b":2.5,"h":6.5,"l":3.5,"r":0},{"a":3.5,"b":4.5,"h":4,"l":0,"r":0},{"a":4,"b":5.5,"h":6,"l":4,"r":0},{"a":1.8,"b":4.7,"h":9.5,"l":6.5,"r":6},{"a":6.5,"b":7.5,"h":5,"l":0,"r":0},{"a":7,"b":8.5,"h":7,"l":5,"r":0},{"a":9.5,"b":10.5,"h":3.5,"l":0,"r":0},{"a":7.7,"b":10,"h":9,"l":7,"r":3.5},{"a":3.2,"b":8.8,"h":10.5,"l":9.5,"r":9},{"a":11.5,"b":19.3,"h":14.8,"l":0,"r":11},{"a":12.5,"b":13.5,"h":5,"l":0,"r":0},{"a":13,"b":14.5,"h":7,"l":5,"r":0},{"a":13.7,"b":17,"h":13.5,"l":7,"r":8},{"a":15.5,"b":16.5,"h":6,"l":0,"r":0},{"a":16,"b":17.5,"h":8,"l":6,"r":0},{"a":18.5,"b":19.5,"h":4,"l":0,"r":0},{"a":19,"b":20.5,"h":8,"l":4,"r":0},{"a":18.5,"b":19.8,"h":11,"l":0,"r":8},{"a":21.5,"b":22.5,"h":5,"l":0,"r":0},{"a":23.5,"b":24.5,"h":4.5,"l":0,"r":0},{"a":22,"b":24,"h":9,"l":5,"r":4.5},{"a":26.5,"b":27.5,"h":4,"l":0,"r":0},{"a":27,"b":28.5,"h":6,"l":4,"r":0},{"a":25.5,"b":27.7,"h":12.4,"l":0,"r":6}]},"layer":[{"mark":{"type":"rule","color":"#333","strokeWidth":1.5},"encoding":{"x":{"field":"a","type":"quantitative","scale":{"domain":[0,29],"range":[89.4,563],"nice":false,"zero":false},"axis":null},"x2":{"field":"b"},"y":{"field":"h","type":"quantitative","scale":{"domain":[0,100],"range":[121,21],"nice":false,"zero":false},"axis":null}}},{"mark":{"type":"rule","color":"#333","strokeWidth":1.5},"encoding":{"x":{"field":"a","type":"quantitative","scale":{"domain":[0,29],"range":[89.4,563],"nice":false,"zero":false},"axis":null},"y":{"field":"h","type":"quantitative","scale":{"domain":[0,100],"range":[121,21],"nice":false,"zero":false},"axis":null},"y2":{"field":"l"}}},{"mark":{"type":"rule","color":"#333","strokeWidth":1.5},"encoding":{"x":{"field":"b","type":"quantitative","scale":{"domain":[0,29],"range":[89.4,563],"nice":false,"zero":false},"axis":null},"y":{"field":"h","type":"quantitative","scale":{"domain":[0,100],"range":[121,21],"nice":false,"zero":false},"axis":null},"y2":{"field":"r"}}},{"data":{"values":[{"t":"A","a":-4,"h":89}]},"mark":{"type":"text","fontSize":30,"fontWeight":"bold","color":"#000"},"encoding":{"text":{"field":"t"},"x":{"field":"a","type":"quantitative","scale":{"domain":[0,29],"range":[89.4,563],"nice":false,"zero":false},"axis":null},"y":{"field":"h","type":"quantitative","scale":{"domain":[0,100],"range":[121,21],"nice":false,"zero":false},"axis":null}}},{"data":{"values":[{"a":28.2,"h":-822,"l":-946}]},"mark":{"type":"rule","color":"#ccc","strokeWidth":1.5},"encoding":{"x":{"field":"a","type":"quantitative","scale":{"domain":[0,29],"range":[89.4,563],"nice":false,"zero":false},"axis":null},"y":{"field":"h","type":"quantitative","scale":{"domain":[0,100],"range":[121,21],"nice":false,"zero":false},"axis":null},"y2":{"field":"l"}}}]},
{"data":{"values":[{"a":4.82,"b":18.37,"h":181,"l":30,"r":83},{"a":2.5,"b":8.7,"h":30,"l":26,"r":27},{"a":0.5,"b":1.5,"h":21,"l":0,"r":0},{"a":2.5,"b":3.5,"h":13,"l":0,"r":0},{"a":4.5,"b":5.5,"h":13,"l":0,"r":0},{"a":3,"b":5,"h":17,"l":13,"r":13},{"a":1,"b":4,"h":26,"l":21,"r":17},{"a":7.5,"b":8.5,"h":20,"l":0,"r":0},{"a":6.5,"b":8,"h":24,"l":0,"r":20},{"a":10.5,"b":11.5,"h":15,"l":0,"r":0},{"a":9.5,"b":11,"h":19,"l":0,"r":15},{"a":7.2,"b":10.2,"h":27,"l":24,"r":19},{"a":15.6,"b":21.2,"h":83,"l":24,"r":26},{"a":12.5,"b":13.5,"h":14,"l":0,"r":0},{"a":14.5,"b":15.5,"h":20,"l":0,"r":0},{"a":13,"b":15,"h":22,"l":14,"r":20},{"a":17.5,"b":18.5,"h":12,"l":0,"r":0},{"a":16.5,"b":18,"h":18,"l":0,"r":12},{"a":14,"b":17.2,"h":24,"l":22,"r":18},{"a":19.5,"b":20.5,"h":14,"l":0,"r":0},{"a":21.5,"b":22.5,"h":18,"l":0,"r":0},{"a":23.5,"b":24.5,"h":12,"l":0,"r":0},{"a":22,"b":24,"h":17,"l":18,"r":12},{"a":20,"b":23,"h":26,"l":14,"r":17}]},"layer":[{"mark":{"type":"rule","color":"#222","strokeWidth":1.5},"encoding":{"y":{"field":"a","type":"quantitative","scale":{"domain":[0,25],"range":[142.4,886],"nice":false,"zero":false},"axis":null},"y2":{"field":"b"},"x":{"field":"h","type":"quantitative","scale":{"domain":[0,233.6],"range":[89.4,0],"nice":false,"zero":false},"axis":null}}},{"mark":{"type":"rule","color":"#222","strokeWidth":1.5},"encoding":{"y":{"field":"a","type":"quantitative","scale":{"domain":[0,25],"range":[142.4,886],"nice":false,"zero":false},"axis":null},"x":{"field":"h","type":"quantitative","scale":{"domain":[0,233.6],"range":[89.4,0],"nice":false,"zero":false},"axis":null},"x2":{"field":"l"}}},{"mark":{"type":"rule","color":"#222","strokeWidth":1.5},"encoding":{"y":{"field":"b","type":"quantitative","scale":{"domain":[0,25],"range":[142.4,886],"nice":false,"zero":false},"axis":null},"x":{"field":"h","type":"quantitative","scale":{"domain":[0,233.6],"range":[89.4,0],"nice":false,"zero":false},"axis":null},"x2":{"field":"r"}}}]},
{"encoding":{"x":{"field":"x","type":"quantitative","title":"Component1 (13.4%)","scale":{"domain":[-60,100],"range":[752.7,1098.6],"nice":false,"zero":false},"axis":{"orient":"bottom","offset":-1512,"values":[-60,-40,-20,0,20,40,60,80,100],"domain":false,"ticks":false,"labelAngle":90,"labelAlign":"center","labelBaseline":"middle","labelPadding":25,"labelFontSize":15,"labelColor":"#333","titleFont":"DejaVu Sans Mono","titleFontSize":20,"titleFontWeight":"normal","titleColor":"#444","titleX":908,"titleY":103,"titleAngle":2}},"y":{"field":"y","type":"quantitative","title":null,"scale":{"domain":[-40,120],"range":[820,265.7],"nice":false,"zero":false},"axis":{"orient":"left","offset":-708,"values":[-40,-20,0,20,40,60,80,100,120],"domain":false,"ticks":false,"labelPadding":0,"labelFontSize":15,"labelColor":"#333"}}},"layer":[
{"data":{"values":[{"x":-30.3,"y":111.5,"x2":-30.3,"y2":-32.7},{"x":-16.4,"y":111.7,"x2":-16.4,"y2":-32.9},{"x":-2.1,"y":111.9,"x2":-2.1,"y2":-33},{"x":12.2,"y":112.1,"x2":12.2,"y2":-33.2},{"x":26.4,"y":112.3,"x2":26.4,"y2":-33.3},{"x":40.1,"y":112.5,"x2":40.1,"y2":-33.5},{"x":54.6,"y":112.7,"x2":54.6,"y2":-33.7},{"x":69.4,"y":112.9,"x2":69.4,"y2":-33.8},{"x":84,"y":113.1,"x2":84,"y2":-34},{"x":98.2,"y":113.3,"x2":98.2,"y2":-34.1},{"x":112.8,"y":113.5,"x2":112.8,"y2":-34.3},{"x":-30.3,"y":-32.7,"x2":112.8,"y2":-34.3},{"x":-30.3,"y":-18.1,"x2":112.8,"y2":-19.7},{"x":-30.3,"y":-3.9,"x2":112.8,"y2":-4.9},{"x":-30.3,"y":10.7,"x2":112.8,"y2":10.1},{"x":-30.3,"y":24.8,"x2":112.8,"y2":24.8},{"x":-30.3,"y":39.4,"x2":112.8,"y2":39.4},{"x":-30.3,"y":54,"x2":112.8,"y2":54.4},{"x":-30.3,"y":68.2,"x2":112.8,"y2":69.6},{"x":-30.3,"y":82.8,"x2":112.8,"y2":84.2},{"x":-30.3,"y":96.9,"x2":112.8,"y2":99.4},{"x":-30.3,"y":111.5,"x2":112.8,"y2":113.5},{"x":-77.2,"y":-60.6,"x2":-30.3,"y2":-32.7},{"x":-77.2,"y":-40.5,"x2":-30.3,"y2":-18.1},{"x":-77.2,"y":-20.5,"x2":-30.3,"y2":-3.9},{"x":-77.2,"y":-0.2,"x2":-30.3,"y2":10.7},{"x":-77.2,"y":19.9,"x2":-30.3,"y2":24.8},{"x":-77.2,"y":39.4,"x2":-30.3,"y2":39.4},{"x":-77.2,"y":58.9,"x2":-30.3,"y2":54},{"x":-77.2,"y":79.3,"x2":-30.3,"y2":68.2},{"x":-77.2,"y":98.8,"x2":-30.3,"y2":82.8},{"x":-77.2,"y":118.9,"x2":-30.3,"y2":96.9},{"x":-77.2,"y":139.4,"x2":-30.3,"y2":111.5},{"x":-77.2,"y":139.4,"x2":-77.2,"y2":-60.6},{"x":-70.9,"y":135.7,"x2":-70.9,"y2":-56.9},{"x":-65.3,"y":132.4,"x2":-65.3,"y2":-53.6},{"x":-59.9,"y":129.1,"x2":-59.9,"y2":-50.3},{"x":-54.9,"y":126.1,"x2":-54.9,"y2":-47.4},{"x":-50.1,"y":123.4,"x2":-50.1,"y2":-44.6},{"x":-45.7,"y":120.7,"x2":-45.7,"y2":-41.9},{"x":-41.5,"y":118.2,"x2":-41.5,"y2":-39.4},{"x":-37.4,"y":115.8,"x2":-37.4,"y2":-37},{"x":-33.8,"y":113.6,"x2":-33.8,"y2":-34.9},{"x":-57.3,"y":-61,"x2":-16,"y2":-32.9},{"x":-37.4,"y":-61.5,"x2":-1.7,"y2":-33},{"x":-17.5,"y":-61.9,"x2":12.6,"y2":-33.2},{"x":2.4,"y":-62.3,"x2":26.9,"y2":-33.3},{"x":22.3,"y":-62.8,"x2":41.3,"y2":-33.5},{"x":42.1,"y":-63.2,"x2":55.6,"y2":-33.7},{"x":62,"y":-63.6,"x2":69.9,"y2":-33.8},{"x":81.9,"y":-64,"x2":84.2,"y2":-34},{"x":101.8,"y":-64.5,"x2":98.5,"y2":-34.1},{"x":121.7,"y":-64.9,"x2":112.8,"y2":-34.3},{"x":-77.2,"y":-60.6,"x2":121.7,"y2":-64.9},{"x":-70.9,"y":-56.9,"x2":120.1,"y2":-58},{"x":-65.3,"y":-53.6,"x2":118.8,"y2":-52},{"x":-59.9,"y":-50.3,"x2":117.7,"y2":-47.5},{"x":-54.9,"y":-47.4,"x2":116.9,"y2":-44},{"x":-50.1,"y":-44.6,"x2":116.3,"y2":-41.5},{"x":-45.7,"y":-41.9,"x2":115.7,"y2":-39.5},{"x":-41.5,"y":-39.4,"x2":115.2,"y2":-38},{"x":-37.4,"y":-37,"x2":114.6,"y2":-36.5},{"x":-33.8,"y":-34.9,"x2":113.8,"y2":-35.3}]},"mark":{"type":"rule","color":"#222","strokeWidth":1.2},"encoding":{"x2":{"field":"x2"},"y2":{"field":"y2"}}},
{"data":{"values":[{"k":"ARA","x":-56.1,"y":13},{"k":"ARA","x":-53.5,"y":12.6},{"k":"ARA","x":-51.9,"y":12},{"k":"ARA","x":-51,"y":10},{"k":"ARA","x":-49.9,"y":6},{"k":"ARA","x":-49.6,"y":4.3},{"k":"MGI","x":-23.7,"y":31.2},{"k":"MGI","x":-18.7,"y":27.5},{"k":"MGI","x":-9.2,"y":6.2},{"k":"MGI","x":-12.8,"y":1.9},{"k":"MGI","x":16.3,"y":-30.8},{"k":"MGI","x":14.2,"y":-33.3},{"k":"MGI","x":15.8,"y":-34.6},{"k":"MGI","x":17,"y":-36.6},{"k":"MGI","x":17.8,"y":-39.6},{"k":"MGII","x":-17.8,"y":52.2},{"k":"MGII","x":36.5,"y":25.5},{"k":"MGII","x":34.1,"y":18.3},{"k":"MGII","x":40.4,"y":8.2},{"k":"MGII","x":40,"y":6.5},{"k":"MGII","x":34.1,"y":1},{"k":"MGII","x":46,"y":0},{"k":"MGII","x":24,"y":-14.6},{"k":"MGII","x":26.7,"y":-17.2},{"k":"MGII","x":26.7,"y":-19.7},{"k":"ND","x":49.9,"y":45.2},{"k":"ND","x":53.7,"y":42.3},{"k":"ND","x":57.3,"y":43.9},{"k":"ND","x":55,"y":41.3},{"k":"ND","x":61.1,"y":40.4}]},"mark":{"type":"point","filled":true,"opacity":1,"size":420,"shape":"M-0.68,0A0.68,1,0,1,1,0.68,0A0.68,1,0,1,1,-0.68,0Z"},"encoding":{"color":{"field":"k","type":"nominal","scale":{"domain":["ARA","MGI","MGII","ND"],"range":["#e00000","#1a9a1a","#0a0ac8","#20d0d0"]},"legend":null}}},
{"data":{"values":[{"x":146.3,"y":-65.9},{"x":149.3,"y":-70.8},{"x":152.2,"y":-75.6},{"x":154.3,"y":-80.5},{"x":156.7,"y":-85.4},{"x":158.2,"y":-87.9},{"x":124,"y":-49.3},{"x":125.5,"y":-55.2},{"x":127,"y":-59},{"x":127,"y":-37.6}]},"mark":{"type":"point","filled":true,"size":25,"color":"#222","opacity":0.8}},
{"data":{"values":[{"t":"(E)","x":117.5,"y":-41.9}]},"mark":{"type":"text","fontSize":30,"fontWeight":"bold","color":"#222"},"encoding":{"text":{"field":"t"}}},
{"data":{"values":[{"t":"B","x":-86.7,"y":187.5}]},"mark":{"type":"text","fontSize":30,"fontWeight":"bold","color":"#000"},"encoding":{"text":{"field":"t"}}}
]},
{"data":{"values":[{"k":"ARA"},{"k":"MGI"},{"k":"MGII"},{"k":"ND"}]},"mark":{"type":"point","filled":true,"opacity":0},"encoding":{"color":{"field":"k","type":"nominal","scale":{"domain":["ARA","MGI","MGII","ND"],"range":["#d80000","#0a7a14","#0000c8","#14d4d4"]},"legend":{"orient":"none","legendX":768,"legendY":160,"direction":"horizontal","columns":4,"title":null,"symbolType":"M-1,0A1,0.7,0,1,1,1,0A1,0.7,0,1,1,-1,0Z","symbolSize":1400,"symbolOpacity":1,"symbolStrokeWidth":0,"labelFontSize":23,"labelFontWeight":"bold","labelColor":"#111","labelOffset":3,"columnPadding":6,"gridAlign":"none","labelLimit":200}}}},
{"encoding":{"x":{"field":"x","type":"quantitative","scale":{"domain":[0,100],"range":[1180,1640],"nice":false,"zero":false},"axis":null},"y":{"field":"y","type":"quantitative","scale":{"domain":[0,100],"range":[900,200],"nice":false,"zero":false},"axis":null}},"layer":[
{"data":{"values":[{"s":"LFQ","x":34.6,"y":61.6}]},"mark":{"type":"point","filled":true,"size":97344,"color":"#0000ff","fillOpacity":0.5,"opacity":1,"stroke":"#111","strokeWidth":1.5,"strokeOpacity":1,"shape":"M-0.772,0A0.772,1,0,1,1,0.772,0A0.772,1,0,1,1,-0.772,0Z"}},
{"data":{"values":[{"s":"iTRAQ","x":68.7,"y":61.6}]},"mark":{"type":"point","filled":true,"size":97344,"color":"#ffff00","fillOpacity":0.5,"opacity":1,"stroke":"#111","strokeWidth":1.5,"strokeOpacity":1,"shape":"M-0.772,0A0.772,1,0,1,1,0.772,0A0.772,1,0,1,1,-0.772,0Z"}},
{"data":{"values":[{"s":"Phosphoproteins","x":51.5,"y":37.6}]},"mark":{"type":"point","filled":true,"size":111556,"color":"#00ff00","fillOpacity":0.5,"opacity":1,"stroke":"#111","strokeWidth":1.5,"strokeOpacity":1,"shape":"M-0.72,0A0.72,1,0,1,1,0.72,0A0.72,1,0,1,1,-0.72,0Z"}},
{"data":{"values":[{"t":"3016","x":28.9,"y":68.5},{"t":"1022","x":51.6,"y":68.5},{"t":"1197","x":74.2,"y":68.5},{"t":"184","x":51.6,"y":55.4},{"t":"417","x":37.3,"y":48.4},{"t":"10","x":65.8,"y":48.4},{"t":"201","x":51.3,"y":33.3}]},"mark":{"type":"text","fontSize":24,"fontWeight":"bold","color":"#0a0a20"},"encoding":{"text":{"field":"t"}}},
{"data":{"values":[{"t":"(49.9%)","x":28.9,"y":65},{"t":"(16.9%)","x":51.6,"y":65},{"t":"(19.8%)","x":74.2,"y":65},{"t":"(3%)","x":51.6,"y":51.8},{"t":"(6.9%)","x":37.3,"y":45},{"t":"(0.2%)","x":65.8,"y":45},{"t":"(3.3%)","x":51.3,"y":29.9}]},"mark":{"type":"text","fontSize":18,"fontWeight":"bold","color":"#0a0a20"},"encoding":{"text":{"field":"t"}}},
{"data":{"values":[{"t":"LFQ","x":28.5,"y":94.1},{"t":"iTRAQ*","x":81.1,"y":94.1},{"t":"Phosphoproteins","x":61.3,"y":6.4}]},"mark":{"type":"text","fontSize":37,"fontWeight":"bold","color":"#111"},"encoding":{"text":{"field":"t"}}},
{"data":{"values":[{"t":"C","x":1.1,"y":124}]},"mark":{"type":"text","fontSize":30,"fontWeight":"bold","color":"#000"},"encoding":{"text":{"field":"t"}}}
]},
{"encoding":{"x":{"field":"x","type":"quantitative","title":"log2 (FC)","scale":{"domain":[-0.587,0.477],"range":[165.3,812],"nice":false,"zero":false},"axis":{"orient":"bottom","offset":-979.7,"values":[-0.4,-0.2,0,0.2,0.4],"format":".1f","domain":false,"tickSize":13,"tickWidth":2.5,"tickColor":"#222","labelFontSize":20,"labelPadding":18,"labelColor":"#333","titleFontSize":21,"titleFontWeight":"normal","titleColor":"#333","titleX":488,"titleY":90,"titleBaseline":"middle"}},"y":{"field":"y","type":"quantitative","title":"-log10(p)","scale":{"domain":[-0.3,8],"range":[1437.3,1114],"nice":false,"zero":false},"axis":{"orient":"left","offset":-165.3,"values":[0,2,4,6],"domain":false,"tickSize":12,"tickWidth":2.5,"tickColor":"#222","labelAngle":-90,"labelAlign":"center","labelBaseline":"bottom","labelFontSize":20,"labelPadding":12,"labelColor":"#333","titleFontSize":21,"titleFontWeight":"normal","titleColor":"#333","titleX":-84,"titleY":1277,"titleBaseline":"middle"}}},"layer":[
{"data":{"values":[{"x":-0.115,"y":1.15,"y2":0.85},{"x":-0.1,"y":1.35,"y2":0.55},{"x":-0.08,"y":1.35,"y2":0.3},{"x":-0.05,"y":0.95,"y2":0.08},{"x":-0.025,"y":0.5,"y2":0.01},{"x":0,"y":0,"y2":-0.05}]},"mark":{"type":"area","color":"#000","opacity":1},"encoding":{"y2":{"field":"y2"}}},
{"data":{"values":[{"x":0,"y":0,"y2":-0.05},{"x":0.02,"y":0.7,"y2":0.01},{"x":0.04,"y":1.4,"y2":0.07},{"x":0.07,"y":2,"y2":0.2},{"x":0.1,"y":2.2,"y2":0.33},{"x":0.13,"y":2,"y2":0.5},{"x":0.15,"y":1.5,"y2":0.65},{"x":0.165,"y":1,"y2":0.78}]},"mark":{"type":"area","color":"#000","opacity":1},"encoding":{"y2":{"field":"y2"}}},
{"data":{"values":[{"x":-0.229,"y":5.9},{"x":-0.246,"y":4.9},{"x":-0.247,"y":4.6},{"x":-0.215,"y":4.5},{"x":-0.136,"y":5},{"x":-0.145,"y":4.85},{"x":-0.102,"y":4.85},{"x":-0.107,"y":4.45},{"x":-0.17,"y":4.35},{"x":-0.15,"y":4.15},{"x":-0.115,"y":4.05},{"x":-0.116,"y":3.8},{"x":-0.093,"y":3.75},{"x":-0.235,"y":3.75},{"x":-0.14,"y":3.6},{"x":-0.138,"y":3.55},{"x":-0.195,"y":3.6},{"x":-0.18,"y":3.5},{"x":-0.17,"y":3.55},{"x":-0.185,"y":3.4},{"x":-0.195,"y":3.3},{"x":-0.2,"y":3.2},{"x":-0.215,"y":3.3},{"x":-0.225,"y":3.25},{"x":-0.24,"y":3.1},{"x":-0.25,"y":3.2},{"x":-0.07,"y":3.3},{"x":-0.1,"y":3.3},{"x":-0.105,"y":3.15},{"x":-0.115,"y":3.05},{"x":-0.13,"y":3.2},{"x":-0.16,"y":3.1},{"x":-0.175,"y":3.15},{"x":-0.19,"y":3},{"x":-0.205,"y":2.95},{"x":-0.22,"y":3},{"x":-0.235,"y":2.85},{"x":-0.15,"y":2.95},{"x":-0.125,"y":2.9},{"x":-0.13,"y":2.7},{"x":-0.12,"y":2.6},{"x":-0.095,"y":2.65},{"x":-0.085,"y":2.55},{"x":-0.145,"y":2.75},{"x":-0.16,"y":2.8},{"x":-0.17,"y":2.65},{"x":-0.18,"y":2.75},{"x":-0.195,"y":2.65},{"x":-0.21,"y":2.7},{"x":-0.225,"y":2.6},{"x":-0.24,"y":2.55},{"x":-0.25,"y":2.7},{"x":-0.24,"y":2.43},{"x":-0.21,"y":2.37},{"x":-0.185,"y":2.46},{"x":-0.16,"y":2.41},{"x":-0.135,"y":2.34},{"x":-0.11,"y":2.45},{"x":-0.085,"y":2.36},{"x":-0.06,"y":2.42},{"x":-0.25,"y":2.23},{"x":-0.225,"y":2.17},{"x":-0.2,"y":2.26},{"x":-0.175,"y":2.19},{"x":-0.15,"y":2.24},{"x":-0.125,"y":2.16},{"x":-0.1,"y":2.21},{"x":-0.075,"y":2.18},{"x":-0.055,"y":2.25},{"x":-0.235,"y":2.03},{"x":-0.21,"y":1.96},{"x":-0.19,"y":2.05},{"x":-0.165,"y":1.98},{"x":-0.14,"y":2.04},{"x":-0.115,"y":1.97},{"x":-0.09,"y":2.02},{"x":-0.07,"y":1.95},{"x":-0.245,"y":1.85},{"x":-0.22,"y":1.8},{"x":-0.195,"y":1.88},{"x":-0.17,"y":1.83},{"x":-0.15,"y":1.86},{"x":-0.125,"y":1.81},{"x":-0.105,"y":1.87},{"x":-0.08,"y":1.82},{"x":-0.2,"y":1.7},{"x":-0.18,"y":1.73},{"x":-0.16,"y":1.66},{"x":-0.14,"y":1.72},{"x":-0.12,"y":1.68},{"x":-0.1,"y":1.71},{"x":-0.085,"y":1.65},{"x":-0.07,"y":1.69},{"x":-0.23,"y":1.55},{"x":-0.19,"y":1.58},{"x":-0.165,"y":1.52},{"x":-0.145,"y":1.56},{"x":-0.13,"y":1.5},{"x":-0.11,"y":1.57},{"x":-0.09,"y":1.53},{"x":-0.075,"y":1.54},{"x":-0.21,"y":1.4},{"x":-0.17,"y":1.37},{"x":-0.15,"y":1.42},{"x":-0.125,"y":1.38},{"x":-0.105,"y":1.43},{"x":-0.095,"y":1.36},{"x":-0.08,"y":1.41},{"x":-0.06,"y":1.33},{"x":-0.24,"y":1.2},{"x":-0.19,"y":1.16},{"x":-0.16,"y":1.23},{"x":-0.13,"y":1.18},{"x":-0.115,"y":1.22},{"x":-0.1,"y":1.15},{"x":-0.27,"y":1.05},{"x":-0.225,"y":0.98},{"x":-0.17,"y":1.02},{"x":-0.14,"y":0.96},{"x":-0.12,"y":1.04},{"x":-0.105,"y":0.94},{"x":-0.16,"y":0.85},{"x":-0.135,"y":0.83},{"x":-0.12,"y":0.87},{"x":-0.19,"y":0.7},{"x":-0.15,"y":0.68},{"x":-0.13,"y":0.72},{"x":-0.155,"y":0.5},{"x":-0.125,"y":0.47},{"x":-0.11,"y":0.53},{"x":-0.12,"y":0.35},{"x":-0.09,"y":0.32},{"x":-0.03,"y":0.7},{"x":-0.04,"y":0.85},{"x":-0.05,"y":1.05},{"x":-0.055,"y":1.25},{"x":-0.06,"y":1.5},{"x":-0.065,"y":1.7},{"x":-0.07,"y":1.4},{"x":-0.075,"y":1.75},{"x":-0.08,"y":1.55},{"x":-0.085,"y":1.85},{"x":-0.09,"y":1.3},{"x":-0.095,"y":1.65},{"x":-0.1,"y":1.45},{"x":-0.105,"y":1.15},{"x":-0.11,"y":1.35},{"x":-0.115,"y":1.05},{"x":-0.12,"y":0.75},{"x":-0.125,"y":1.2},{"x":-0.13,"y":0.9},{"x":-0.135,"y":1.35},{"x":-0.14,"y":1.1},{"x":-0.145,"y":0.8},{"x":-0.15,"y":1.25},{"x":-0.155,"y":0.65},{"x":-0.16,"y":1.05},{"x":-0.165,"y":1.45},{"x":-0.17,"y":0.85},{"x":-0.175,"y":1.65},{"x":-0.18,"y":1.2},{"x":-0.185,"y":1.85},{"x":-0.19,"y":1.45},{"x":-0.2,"y":2.05},{"x":-0.21,"y":1.65},{"x":-0.215,"y":2.2},{"x":-0.22,"y":1.35},{"x":-0.23,"y":2.05},{"x":-0.17,"y":2.15},{"x":-0.18,"y":2},{"x":-0.15,"y":2.05},{"x":-0.155,"y":1.75},{"x":-0.13,"y":1.65},{"x":-0.125,"y":2},{"x":-0.1,"y":2},{"x":-0.11,"y":1.75},{"x":-0.09,"y":0.45},{"x":-0.07,"y":0.25},{"x":-0.05,"y":0.12},{"x":-0.1,"y":0.6},{"x":-0.11,"y":0.7},{"x":0.095,"y":5.9},{"x":0.212,"y":5.95},{"x":0.232,"y":5.85},{"x":0.15,"y":5.2},{"x":0.175,"y":5.3},{"x":0.17,"y":5.05},{"x":0.12,"y":4.7},{"x":0.13,"y":4.7},{"x":0.16,"y":4.55},{"x":0.18,"y":4.55},{"x":0.2,"y":4.7},{"x":0.22,"y":4.65},{"x":0.24,"y":4.75},{"x":0.145,"y":4.4},{"x":0.155,"y":4.4},{"x":0.215,"y":4.4},{"x":0.25,"y":4.5},{"x":0.24,"y":4.1},{"x":0.095,"y":4.3},{"x":0.105,"y":4.1},{"x":0.15,"y":4.3},{"x":0.19,"y":4.25},{"x":0.2,"y":4.05},{"x":0.11,"y":3.95},{"x":0.125,"y":3.85},{"x":0.14,"y":3.9},{"x":0.165,"y":3.85},{"x":0.18,"y":3.75},{"x":0.205,"y":3.8},{"x":0.225,"y":3.7},{"x":0.245,"y":3.65},{"x":0.09,"y":3.6},{"x":0.1,"y":3.4},{"x":0.115,"y":3.5},{"x":0.13,"y":3.55},{"x":0.15,"y":3.45},{"x":0.17,"y":3.4},{"x":0.19,"y":3.5},{"x":0.21,"y":3.35},{"x":0.23,"y":3.4},{"x":0.25,"y":3.3},{"x":0.08,"y":3.23},{"x":0.11,"y":3.17},{"x":0.13,"y":3.25},{"x":0.155,"y":3.19},{"x":0.175,"y":3.22},{"x":0.2,"y":3.15},{"x":0.22,"y":3.24},{"x":0.24,"y":3.16},{"x":0.07,"y":3.03},{"x":0.095,"y":2.98},{"x":0.12,"y":3.05},{"x":0.14,"y":2.97},{"x":0.165,"y":3.02},{"x":0.185,"y":2.96},{"x":0.21,"y":3.04},{"x":0.235,"y":2.99},{"x":0.255,"y":3.06},{"x":0.06,"y":2.83},{"x":0.085,"y":2.78},{"x":0.105,"y":2.85},{"x":0.125,"y":2.77},{"x":0.15,"y":2.82},{"x":0.17,"y":2.76},{"x":0.195,"y":2.84},{"x":0.22,"y":2.79},{"x":0.245,"y":2.86},{"x":0.05,"y":2.63},{"x":0.075,"y":2.58},{"x":0.095,"y":2.65},{"x":0.115,"y":2.57},{"x":0.135,"y":2.62},{"x":0.16,"y":2.56},{"x":0.18,"y":2.64},{"x":0.205,"y":2.59},{"x":0.23,"y":2.66},{"x":0.25,"y":2.55},{"x":0.05,"y":2.43},{"x":0.07,"y":2.38},{"x":0.09,"y":2.45},{"x":0.11,"y":2.37},{"x":0.13,"y":2.42},{"x":0.15,"y":2.36},{"x":0.17,"y":2.44},{"x":0.19,"y":2.39},{"x":0.215,"y":2.46},{"x":0.24,"y":2.35},{"x":0.04,"y":2.23},{"x":0.06,"y":2.18},{"x":0.125,"y":2.25},{"x":0.145,"y":2.17},{"x":0.165,"y":2.22},{"x":0.185,"y":2.16},{"x":0.205,"y":2.24},{"x":0.225,"y":2.19},{"x":0.25,"y":2.26},{"x":0.135,"y":2.03},{"x":0.155,"y":1.98},{"x":0.175,"y":2.05},{"x":0.195,"y":1.97},{"x":0.215,"y":2.02},{"x":0.24,"y":1.96},{"x":0.255,"y":2.04},{"x":0.145,"y":1.83},{"x":0.165,"y":1.78},{"x":0.185,"y":1.85},{"x":0.21,"y":1.77},{"x":0.23,"y":1.82},{"x":0.25,"y":1.76},{"x":0.15,"y":1.63},{"x":0.17,"y":1.58},{"x":0.19,"y":1.65},{"x":0.2,"y":1.57},{"x":0.22,"y":1.62},{"x":0.24,"y":1.56},{"x":0.155,"y":1.43},{"x":0.17,"y":1.38},{"x":0.185,"y":1.45},{"x":0.2,"y":1.37},{"x":0.22,"y":1.42},{"x":0.24,"y":1.36},{"x":0.26,"y":1.44},{"x":0.16,"y":1.23},{"x":0.18,"y":1.18},{"x":0.2,"y":1.25},{"x":0.215,"y":1.17},{"x":0.24,"y":1.22},{"x":0.255,"y":1.16},{"x":0.16,"y":1.03},{"x":0.175,"y":0.98},{"x":0.19,"y":1.05},{"x":0.21,"y":0.97},{"x":0.23,"y":1.02},{"x":0.29,"y":1.03},{"x":0.155,"y":0.83},{"x":0.17,"y":0.78},{"x":0.19,"y":0.85},{"x":0.22,"y":0.77},{"x":0.16,"y":0.63},{"x":0.175,"y":0.58},{"x":0.2,"y":0.5},{"x":0.22,"y":0.65},{"x":0.03,"y":1.1},{"x":0.035,"y":1.35},{"x":0.04,"y":1.55},{"x":0.045,"y":1.75},{"x":0.05,"y":1.95},{"x":0.055,"y":2.1},{"x":0.06,"y":1.7},{"x":0.065,"y":2.3},{"x":0.07,"y":1.95},{"x":0.075,"y":2.25},{"x":0.08,"y":2.05},{"x":0.085,"y":2.35},{"x":0.09,"y":2.15},{"x":0.095,"y":1.95},{"x":0.1,"y":2.25},{"x":0.105,"y":2.05},{"x":0.11,"y":2.2},{"x":0.115,"y":1.9},{"x":0.12,"y":2.1},{"x":0.125,"y":1.85},{"x":0.13,"y":1.95},{"x":0.135,"y":1.7},{"x":0.14,"y":1.85},{"x":0.145,"y":1.55},{"x":0.15,"y":1.7},{"x":0.155,"y":1.3},{"x":0.16,"y":1.5},{"x":0.165,"y":1.15},{"x":0.17,"y":1.25},{"x":0.175,"y":0.85},{"x":0.18,"y":1},{"x":0.185,"y":0.75},{"x":0.19,"y":0.9},{"x":0.14,"y":1.2},{"x":0.145,"y":0.95},{"x":0.15,"y":0.8},{"x":0.135,"y":0.62},{"x":0.155,"y":0.65},{"x":0.17,"y":0.62},{"x":0.185,"y":0.6},{"x":0.12,"y":0.5},{"x":0.14,"y":0.55},{"x":0.1,"y":0.38},{"x":0.08,"y":0.25},{"x":0.06,"y":0.16},{"x":0.04,"y":0.09},{"x":0.09,"y":2.6},{"x":0.1,"y":2.75},{"x":0.11,"y":2.6},{"x":0.12,"y":2.7},{"x":0.13,"y":2.4},{"x":0.14,"y":2.55},{"x":0.15,"y":2.2},{"x":0.16,"y":2.25},{"x":0.17,"y":2.1},{"x":0.18,"y":1.95},{"x":0.19,"y":1.8},{"x":0.2,"y":1.65},{"x":0.21,"y":1.5},{"x":0.2,"y":1.3},{"x":0.21,"y":1.15},{"x":0.22,"y":1.25},{"x":0.08,"y":2.65},{"x":0.06,"y":2.5}]},"mark":{"type":"point","filled":true,"color":"#000","opacity":0.45,"size":50}},
{"data":{"values":[{"x":-0.549,"y":7.69},{"x":-0.298,"y":7.02},{"x":-0.377,"y":5.91},{"x":-0.341,"y":5.49},{"x":-0.302,"y":5.22},{"x":-0.264,"y":5.26},{"x":-0.34,"y":5.07},{"x":-0.367,"y":4.95},{"x":-0.509,"y":4.84},{"x":-0.294,"y":4.59},{"x":-0.284,"y":4.36},{"x":-0.277,"y":4.19},{"x":-0.304,"y":4.22},{"x":-0.319,"y":4.09},{"x":-0.312,"y":4},{"x":-0.279,"y":4},{"x":-0.348,"y":3.85},{"x":-0.324,"y":3.79},{"x":-0.288,"y":3.81},{"x":-0.425,"y":3.64},{"x":-0.27,"y":3.7},{"x":-0.351,"y":3.53},{"x":-0.318,"y":3.49},{"x":-0.275,"y":3.53},{"x":-0.383,"y":3.34},{"x":-0.302,"y":3.32},{"x":-0.295,"y":3.32},{"x":-0.279,"y":3.19},{"x":-0.324,"y":3.02},{"x":-0.322,"y":2.93},{"x":-0.337,"y":2.67},{"x":-0.315,"y":2.67},{"x":-0.308,"y":2.63},{"x":-0.284,"y":2.5},{"x":-0.418,"y":2.48},{"x":-0.337,"y":2.46},{"x":-0.346,"y":2.37},{"x":-0.284,"y":2.42},{"x":-0.297,"y":2.22},{"x":-0.286,"y":1.96},{"x":-0.266,"y":1.9},{"x":-0.266,"y":1.69},{"x":-0.361,"y":1.47},{"x":-0.261,"y":1.35},{"x":0.267,"y":5.25},{"x":0.352,"y":5.33},{"x":0.328,"y":4.83},{"x":0.401,"y":4.71},{"x":0.276,"y":4.52},{"x":0.272,"y":4.35},{"x":0.278,"y":3.33},{"x":0.285,"y":3.33},{"x":0.31,"y":3.33},{"x":0.35,"y":3.45},{"x":0.365,"y":3.45},{"x":0.31,"y":3.1},{"x":0.397,"y":3.21},{"x":0.439,"y":3.18},{"x":0.386,"y":2.93},{"x":0.292,"y":2.96},{"x":0.278,"y":2.67},{"x":0.31,"y":2.8},{"x":0.32,"y":2.55},{"x":0.359,"y":2.61},{"x":0.274,"y":2.33},{"x":0.298,"y":2.37},{"x":0.301,"y":2.2},{"x":0.336,"y":2.22},{"x":0.424,"y":2.2},{"x":0.41,"y":2.1},{"x":0.408,"y":1.86},{"x":0.278,"y":1.9},{"x":0.319,"y":1.9},{"x":0.317,"y":1.73},{"x":0.283,"y":1.6},{"x":0.314,"y":1.65},{"x":0.347,"y":1.6},{"x":0.301,"y":1.45},{"x":0.314,"y":1.47}]},"mark":{"type":"point","filled":true,"color":"#ff66ff","fillOpacity":0.3,"opacity":1,"stroke":"#f040f0","strokeWidth":2,"strokeOpacity":0.75,"size":90}},
{"data":{"values":[{"x":-0.263,"y":-0.3,"x2":-0.263,"y2":8},{"x":0.263,"y":-0.3,"x2":0.263,"y2":8},{"x":-0.57,"y":1.3,"x2":0.477,"y2":1.3}]},"mark":{"type":"rule","color":"#111","strokeWidth":2.4,"strokeDash":[2,3]},"encoding":{"x2":{"field":"x2"},"y2":{"field":"y2"}}},
{"data":{"values":[{"x":-0.587,"y":8,"x2":0.477,"y2":8},{"x":-0.587,"y":-0.3,"x2":0.477,"y2":-0.3},{"x":-0.587,"y":-0.3,"x2":-0.587,"y2":8},{"x":0.477,"y":-0.3,"x2":0.477,"y2":8}]},"mark":{"type":"rule","color":"#222","strokeWidth":2.5},"encoding":{"x2":{"field":"x2"},"y2":{"field":"y2"}}},
{"data":{"values":[{"t":"CCDC158","x":-0.714,"y":8.68},{"t":"NTM","x":-0.373,"y":7.37},{"t":"GPCRC5C","x":-0.492,"y":6.36},{"t":"ARHGAP23","x":-0.59,"y":4.76},{"t":"IQSEC2","x":-0.502,"y":3.1},{"t":"MAST2","x":-0.471,"y":1.84}]},"mark":{"type":"text","font":"Noto Sans","fontSize":26,"angle":27,"color":"#2f5597"},"encoding":{"text":{"field":"t"}}},
{"data":{"values":[{"t":"ANXA6","x":0.408,"y":6.53},{"t":"RAPGEF1","x":0.499,"y":4.74},{"t":"HDLBP","x":0.511,"y":2.8},{"t":"NDRG2","x":0.445,"y":1.49},{"t":"SPAG9","x":0.402,"y":0.38}]},"mark":{"type":"text","font":"Noto Sans","fontSize":26,"angle":-29,"color":"#2f5597"},"encoding":{"text":{"field":"t"}}},
{"data":{"values":[{"t":"D","x":-0.823,"y":7.9}]},"mark":{"type":"text","fontSize":30,"fontWeight":"bold","color":"#000"},"encoding":{"text":{"field":"t"}}}
]},
{"data":{"values":[{"y":0}]},"mark":{"type":"rule","opacity":0,"color":"#000"},"encoding":{"y":{"field":"y","type":"quantitative","title":null,"scale":{"domain":[-0.3,8],"range":[1437.3,1114],"nice":false,"zero":false},"axis":{"orient":"right","offset":-838,"values":[0,2,4,6],"domain":false,"tickSize":12,"tickWidth":2.5,"tickColor":"#222","labelAngle":-90,"labelAlign":"center","labelBaseline":"top","labelFontSize":20,"labelPadding":19,"labelColor":"#333"}}}},
{"encoding":{"x":{"field":"x","type":"quantitative","title":null,"scale":{"domain":[0.5,3.52],"range":[1092.8,1541.8],"nice":false,"zero":false},"axis":{"orient":"bottom","offset":-943.7,"values":[1,2,3],"labelExpr":"datum.value==1?'NT':datum.value==2?'MGI':'MGII'","domainWidth":2.5,"domainColor":"#111","tickWidth":2.5,"tickColor":"#111","tickSize":8,"labelFontSize":24,"labelPadding":5}},"y":{"field":"y","type":"quantitative","title":"Log2 Normalized Abundances","scale":{"domain":[20,30],"range":[1473.3,1147.3],"nice":false,"zero":false},"axis":{"orient":"left","offset":-1092.8,"values":[20,22,24,26,28,30],"domainWidth":2.5,"domainColor":"#111","tickWidth":2.5,"tickColor":"#111","tickSize":10,"labelFontSize":24,"labelPadding":2,"titleFontSize":27,"titleFontWeight":"bold","titleX":-151.3,"titleY":1310,"titleBaseline":"middle"}}},"layer":[
{"data":{"values":[{"g":"NT","x":0.671,"y":23.42,"x2":1.34,"y2":23.42},{"g":"NT","x":0.838,"y":24.12,"x2":1.167,"y2":24.12},{"g":"NT","x":0.838,"y":22.72,"x2":1.167,"y2":22.72},{"g":"NT","x":1,"y":22.72,"x2":1,"y2":24.12},{"g":"MGI","x":1.661,"y":25.25,"x2":2.339,"y2":25.25},{"g":"MGI","x":1.829,"y":25.9,"x2":2.163,"y2":25.9},{"g":"MGI","x":1.829,"y":24.6,"x2":2.163,"y2":24.6},{"g":"MGI","x":2,"y":24.6,"x2":2,"y2":25.9},{"g":"MGII","x":2.666,"y":25.22,"x2":3.341,"y2":25.22},{"g":"MGII","x":2.833,"y":26.4,"x2":3.168,"y2":26.4},{"g":"MGII","x":2.833,"y":24.05,"x2":3.168,"y2":24.05},{"g":"MGII","x":3,"y":24.05,"x2":3,"y2":26.4}]},"mark":{"type":"rule","strokeWidth":2.8},"encoding":{"x2":{"field":"x2"},"y2":{"field":"y2"},"color":{"field":"g","type":"nominal","scale":{"domain":["NT","MGI","MGII"],"range":["#0000e6","#e60000","#00b400"]},"legend":null}}},
{"data":{"values":[{"g":"NT","x":1,"y":24.65},{"g":"NT","x":0.941,"y":23.94},{"g":"NT","x":1.061,"y":23.9},{"g":"NT","x":0.76,"y":23.35},{"g":"NT","x":1.243,"y":23.07},{"g":"NT","x":0.88,"y":22.97},{"g":"NT","x":0.844,"y":22.87},{"g":"NT","x":1.123,"y":22.83},{"g":"NT","x":1,"y":22.76},{"g":"MGI","x":1.765,"y":25.83},{"g":"MGI","x":2.183,"y":26.01},{"g":"MGI","x":2.057,"y":25.81},{"g":"MGI","x":1.884,"y":25.73},{"g":"MGI","x":1.823,"y":25.4},{"g":"MGI","x":1.954,"y":25.14},{"g":"MGI","x":2.247,"y":25.19},{"g":"MGI","x":2.122,"y":24.96},{"g":"MGI","x":2.057,"y":24.47},{"g":"MGI","x":1.946,"y":24.04},{"g":"MGII","x":3.006,"y":26.65},{"g":"MGII","x":2.822,"y":26.26},{"g":"MGII","x":3.188,"y":26.26},{"g":"MGII","x":2.945,"y":25.98},{"g":"MGII","x":3.068,"y":25.98},{"g":"MGII","x":3.068,"y":25.37},{"g":"MGII","x":2.883,"y":25.19},{"g":"MGII","x":2.945,"y":24.96},{"g":"MGII","x":3.068,"y":24.5},{"g":"MGII","x":3.068,"y":23.48},{"g":"MGII","x":2.945,"y":22.89}]},"mark":{"type":"point","filled":true,"opacity":1,"size":190},"encoding":{"color":{"field":"g","type":"nominal","scale":{"domain":["NT","MGI","MGII"],"range":["#0000e6","#e60000","#00b400"]},"legend":null},"shape":{"field":"g","type":"nominal","scale":{"domain":["NT","MGI","MGII"],"range":["circle","square","triangle-up"]},"legend":null}}},
{"data":{"values":[{"x":0.73,"y":28.88,"x2":3.3,"y2":28.88}]},"mark":{"type":"rule","color":"#111","strokeWidth":2.5},"encoding":{"x2":{"field":"x2"},"y2":{"field":"y2"}}},
{"data":{"values":[{"t":"***","x":2,"y":29.85}]},"mark":{"type":"text","fontSize":18,"fontWeight":"bold","color":"#555"},"encoding":{"text":{"field":"t"}}},
{"data":{"values":[{"t":"SPAG9","x":1.993,"y":31.55}]},"mark":{"type":"text","fontSize":28,"color":"#111"},"encoding":{"text":{"field":"t"}}},
{"data":{"values":[{"t":"E","x":-0.143,"y":31.39}]},"mark":{"type":"text","fontSize":30,"fontWeight":"bold","color":"#000"},"encoding":{"text":{"field":"t"}}}
]},
{"data":{"values":[{"a":0,"b":21,"c":0,"d":25}]},"mark":{"type":"rect","color":"#1c0a04"},"encoding":{"x":{"field":"a","type":"quantitative","scale":{"domain":[0,21],"range":[72.6,631.4],"nice":false,"zero":false},"axis":null},"x2":{"field":"b"},"y":{"field":"c","type":"quantitative","scale":{"domain":[0,25],"range":[1631.7,2395],"nice":false,"zero":false},"axis":null},"y2":{"field":"d"}}},
{"data":{"values":[
{"g":"IGLC2","s":"s1","v":-0.8},{"g":"IGLC2","s":"s2","v":0.4},{"g":"IGLC2","s":"s3","v":0},{"g":"IGLC2","s":"s4","v":1.2},{"g":"IGLC2","s":"s5","v":0.6},{"g":"IGLC2","s":"s6","v":0.7},{"g":"IGLC2","s":"s7","v":0.7},{"g":"IGLC2","s":"s8","v":0.7},{"g":"IGLC2","s":"s9","v":0.7},{"g":"IGLC2","s":"s10","v":1.6},{"g":"IGLC2","s":"s11","v":-1.2},{"g":"IGLC2","s":"s12","v":0.5},{"g":"IGLC2","s":"s13","v":0.2},{"g":"IGLC2","s":"s14","v":-0.4},{"g":"IGLC2","s":"s15","v":-1},{"g":"IGLC2","s":"s16","v":-1},{"g":"IGLC2","s":"s17","v":-2.5},{"g":"IGLC2","s":"s18","v":0},{"g":"IGLC2","s":"s19","v":-0.5},{"g":"IGLC2","s":"s20","v":-0.5},{"g":"IGLC2","s":"s21","v":-1.5},
{"g":"COL16A1","s":"s1","v":0.5},{"g":"COL16A1","s":"s2","v":1.6},{"g":"COL16A1","s":"s3","v":-0.1},{"g":"COL16A1","s":"s4","v":0.3},{"g":"COL16A1","s":"s5","v":0.3},{"g":"COL16A1","s":"s6","v":0.5},{"g":"COL16A1","s":"s7","v":0.9},{"g":"COL16A1","s":"s8","v":1.2},{"g":"COL16A1","s":"s9","v":0.2},{"g":"COL16A1","s":"s10","v":0.6},{"g":"COL16A1","s":"s11","v":-2.3},{"g":"COL16A1","s":"s12","v":0.6},{"g":"COL16A1","s":"s13","v":1.5},{"g":"COL16A1","s":"s14","v":-0.4},{"g":"COL16A1","s":"s15","v":-1},{"g":"COL16A1","s":"s16","v":-1},{"g":"COL16A1","s":"s17","v":-1.5},{"g":"COL16A1","s":"s18","v":-1},{"g":"COL16A1","s":"s19","v":-2.4},{"g":"COL16A1","s":"s20","v":-1},{"g":"COL16A1","s":"s21","v":0.3},
{"g":"NBAS","s":"s1","v":0},{"g":"NBAS","s":"s2","v":0},{"g":"NBAS","s":"s3","v":0},{"g":"NBAS","s":"s4","v":-0.8},{"g":"NBAS","s":"s5","v":-0.8},{"g":"NBAS","s":"s6","v":-1.1},{"g":"NBAS","s":"s7","v":-1.5},{"g":"NBAS","s":"s8","v":-0.6},{"g":"NBAS","s":"s9","v":-2.2},{"g":"NBAS","s":"s10","v":-0.8},{"g":"NBAS","s":"s11","v":0.4},{"g":"NBAS","s":"s12","v":0.2},{"g":"NBAS","s":"s13","v":-0.1},{"g":"NBAS","s":"s14","v":-0.5},{"g":"NBAS","s":"s15","v":0.4},{"g":"NBAS","s":"s16","v":0.4},{"g":"NBAS","s":"s17","v":1.8},{"g":"NBAS","s":"s18","v":3},{"g":"NBAS","s":"s19","v":0.5},{"g":"NBAS","s":"s20","v":0.6},{"g":"NBAS","s":"s21","v":-0.5},
{"g":"SEC24C","s":"s1","v":0},{"g":"SEC24C","s":"s2","v":0},{"g":"SEC24C","s":"s3","v":-0.8},{"g":"SEC24C","s":"s4","v":-1.3},{"g":"SEC24C","s":"s5","v":-1},{"g":"SEC24C","s":"s6","v":-0.4},{"g":"SEC24C","s":"s7","v":0.4},{"g":"SEC24C","s":"s8","v":-2.6},{"g":"SEC24C","s":"s9","v":-2.6},{"g":"SEC24C","s":"s10","v":0.2},{"g":"SEC24C","s":"s11","v":0.4},{"g":"SEC24C","s":"s12","v":0.9},{"g":"SEC24C","s":"s13","v":0},{"g":"SEC24C","s":"s14","v":-0.2},{"g":"SEC24C","s":"s15","v":-0.2},{"g":"SEC24C","s":"s16","v":0.8},{"g":"SEC24C","s":"s17","v":0.5},{"g":"SEC24C","s":"s18","v":2.4},{"g":"SEC24C","s":"s19","v":0.3},{"g":"SEC24C","s":"s20","v":0.8},{"g":"SEC24C","s":"s21","v":-0.2},
{"g":"FMNL2","s":"s1","v":0},{"g":"FMNL2","s":"s2","v":-1},{"g":"FMNL2","s":"s3","v":0},{"g":"FMNL2","s":"s4","v":-1.5},{"g":"FMNL2","s":"s5","v":-2.4},{"g":"FMNL2","s":"s6","v":0.3},{"g":"FMNL2","s":"s7","v":0},{"g":"FMNL2","s":"s8","v":-1.8},{"g":"FMNL2","s":"s9","v":-1.4},{"g":"FMNL2","s":"s10","v":0},{"g":"FMNL2","s":"s11","v":0.7},{"g":"FMNL2","s":"s12","v":1},{"g":"FMNL2","s":"s13","v":0.8},{"g":"FMNL2","s":"s14","v":0.8},{"g":"FMNL2","s":"s15","v":0.3},{"g":"FMNL2","s":"s16","v":0.2},{"g":"FMNL2","s":"s17","v":-1.7},{"g":"FMNL2","s":"s18","v":2.4},{"g":"FMNL2","s":"s19","v":0.3},{"g":"FMNL2","s":"s20","v":0.2},{"g":"FMNL2","s":"s21","v":0.2},
{"g":"RRM1","s":"s1","v":0.4},{"g":"RRM1","s":"s2","v":-1.5},{"g":"RRM1","s":"s3","v":0.5},{"g":"RRM1","s":"s4","v":-0.8},{"g":"RRM1","s":"s5","v":-2.4},{"g":"RRM1","s":"s6","v":0.4},{"g":"RRM1","s":"s7","v":-1},{"g":"RRM1","s":"s8","v":-2},{"g":"RRM1","s":"s9","v":-0.3},{"g":"RRM1","s":"s10","v":-1},{"g":"RRM1","s":"s11","v":0.6},{"g":"RRM1","s":"s12","v":0.6},{"g":"RRM1","s":"s13","v":0.1},{"g":"RRM1","s":"s14","v":0.6},{"g":"RRM1","s":"s15","v":0.6},{"g":"RRM1","s":"s16","v":-1.8},{"g":"RRM1","s":"s17","v":1.2},{"g":"RRM1","s":"s18","v":0.5},{"g":"RRM1","s":"s19","v":1.3},{"g":"RRM1","s":"s20","v":0.8},{"g":"RRM1","s":"s21","v":0.3},
{"g":"APMCX2","s":"s1","v":0.7},{"g":"APMCX2","s":"s2","v":0.7},{"g":"APMCX2","s":"s3","v":0.7},{"g":"APMCX2","s":"s4","v":-1.8},{"g":"APMCX2","s":"s5","v":-1.8},{"g":"APMCX2","s":"s6","v":-0.6},{"g":"APMCX2","s":"s7","v":-1.4},{"g":"APMCX2","s":"s8","v":-2},{"g":"APMCX2","s":"s9","v":-1.1},{"g":"APMCX2","s":"s10","v":-1.9},{"g":"APMCX2","s":"s11","v":1},{"g":"APMCX2","s":"s12","v":0.2},{"g":"APMCX2","s":"s13","v":0.5},{"g":"APMCX2","s":"s14","v":1.5},{"g":"APMCX2","s":"s15","v":0.6},{"g":"APMCX2","s":"s16","v":0},{"g":"APMCX2","s":"s17","v":0.3},{"g":"APMCX2","s":"s18","v":0.8},{"g":"APMCX2","s":"s19","v":0.8},{"g":"APMCX2","s":"s20","v":-0.9},{"g":"APMCX2","s":"s21","v":0.7},
{"g":"SEC23A","s":"s1","v":0.5},{"g":"SEC23A","s":"s2","v":0.1},{"g":"SEC23A","s":"s3","v":0.5},{"g":"SEC23A","s":"s4","v":-0.4},{"g":"SEC23A","s":"s5","v":-0.4},{"g":"SEC23A","s":"s6","v":0.4},{"g":"SEC23A","s":"s7","v":-2.2},{"g":"SEC23A","s":"s8","v":-2.8},{"g":"SEC23A","s":"s9","v":-2.8},{"g":"SEC23A","s":"s10","v":-1.5},{"g":"SEC23A","s":"s11","v":0.6},{"g":"SEC23A","s":"s12","v":0.8},{"g":"SEC23A","s":"s13","v":0.8},{"g":"SEC23A","s":"s14","v":0.3},{"g":"SEC23A","s":"s15","v":-1},{"g":"SEC23A","s":"s16","v":0.8},{"g":"SEC23A","s":"s17","v":0.4},{"g":"SEC23A","s":"s18","v":0.8},{"g":"SEC23A","s":"s19","v":0.8},{"g":"SEC23A","s":"s20","v":0.5},{"g":"SEC23A","s":"s21","v":0.1},
{"g":"LCP2","s":"s1","v":-0.7},{"g":"LCP2","s":"s2","v":-0.2},{"g":"LCP2","s":"s3","v":-0.2},{"g":"LCP2","s":"s4","v":-0.1},{"g":"LCP2","s":"s5","v":0.2},{"g":"LCP2","s":"s6","v":0.2},{"g":"LCP2","s":"s7","v":-1.4},{"g":"LCP2","s":"s8","v":-3.4},{"g":"LCP2","s":"s9","v":-0.7},{"g":"LCP2","s":"s10","v":-0.9},{"g":"LCP2","s":"s11","v":0},{"g":"LCP2","s":"s12","v":0.8},{"g":"LCP2","s":"s13","v":0.8},{"g":"LCP2","s":"s14","v":0},{"g":"LCP2","s":"s15","v":0},{"g":"LCP2","s":"s16","v":0.7},{"g":"LCP2","s":"s17","v":0.7},{"g":"LCP2","s":"s18","v":0.2},{"g":"LCP2","s":"s19","v":1.3},{"g":"LCP2","s":"s20","v":1.3},{"g":"LCP2","s":"s21","v":-0.9},
{"g":"BCAT1","s":"s1","v":-0.3},{"g":"BCAT1","s":"s2","v":-1},{"g":"BCAT1","s":"s3","v":0},{"g":"BCAT1","s":"s4","v":-0.4},{"g":"BCAT1","s":"s5","v":-0.5},{"g":"BCAT1","s":"s6","v":0.4},{"g":"BCAT1","s":"s7","v":-1},{"g":"BCAT1","s":"s8","v":-1.1},{"g":"BCAT1","s":"s9","v":-1.6},{"g":"BCAT1","s":"s10","v":-1.8},{"g":"BCAT1","s":"s11","v":1.6},{"g":"BCAT1","s":"s12","v":0.7},{"g":"BCAT1","s":"s13","v":1.9},{"g":"BCAT1","s":"s14","v":1.5},{"g":"BCAT1","s":"s15","v":0.3},{"g":"BCAT1","s":"s16","v":0.7},{"g":"BCAT1","s":"s17","v":0.7},{"g":"BCAT1","s":"s18","v":-1.2},{"g":"BCAT1","s":"s19","v":0.7},{"g":"BCAT1","s":"s20","v":-0.5},{"g":"BCAT1","s":"s21","v":-1.4},
{"g":"SFRP2","s":"s1","v":-1},{"g":"SFRP2","s":"s2","v":0.3},{"g":"SFRP2","s":"s3","v":0.3},{"g":"SFRP2","s":"s4","v":-1.3},{"g":"SFRP2","s":"s5","v":0.2},{"g":"SFRP2","s":"s6","v":-0.5},{"g":"SFRP2","s":"s7","v":-1.5},{"g":"SFRP2","s":"s8","v":-1.6},{"g":"SFRP2","s":"s9","v":-1.6},{"g":"SFRP2","s":"s10","v":-1.7},{"g":"SFRP2","s":"s11","v":1.7},{"g":"SFRP2","s":"s12","v":0.2},{"g":"SFRP2","s":"s13","v":0.2},{"g":"SFRP2","s":"s14","v":-1},{"g":"SFRP2","s":"s15","v":0.5},{"g":"SFRP2","s":"s16","v":0},{"g":"SFRP2","s":"s17","v":1.2},{"g":"SFRP2","s":"s18","v":0.2},{"g":"SFRP2","s":"s19","v":2.8},{"g":"SFRP2","s":"s20","v":0.2},{"g":"SFRP2","s":"s21","v":-1.2},
{"g":"VWA8","s":"s1","v":-0.7},{"g":"VWA8","s":"s2","v":-0.7},{"g":"VWA8","s":"s3","v":-2.2},{"g":"VWA8","s":"s4","v":-1},{"g":"VWA8","s":"s5","v":-0.5},{"g":"VWA8","s":"s6","v":-1.3},{"g":"VWA8","s":"s7","v":-1.4},{"g":"VWA8","s":"s8","v":-0.7},{"g":"VWA8","s":"s9","v":0.6},{"g":"VWA8","s":"s10","v":-0.7},{"g":"VWA8","s":"s11","v":-0.5},{"g":"VWA8","s":"s12","v":-0.8},{"g":"VWA8","s":"s13","v":-1.2},{"g":"VWA8","s":"s14","v":0},{"g":"VWA8","s":"s15","v":1.2},{"g":"VWA8","s":"s16","v":1.5},{"g":"VWA8","s":"s17","v":1.5},{"g":"VWA8","s":"s18","v":1.5},{"g":"VWA8","s":"s19","v":0.9},{"g":"VWA8","s":"s20","v":0.8},{"g":"VWA8","s":"s21","v":0.6},
{"g":"CUX1","s":"s1","v":-0.6},{"g":"CUX1","s":"s2","v":-0.3},{"g":"CUX1","s":"s3","v":-1},{"g":"CUX1","s":"s4","v":-1.5},{"g":"CUX1","s":"s5","v":-0.1},{"g":"CUX1","s":"s6","v":-0.4},{"g":"CUX1","s":"s7","v":-0.5},{"g":"CUX1","s":"s8","v":-0.9},{"g":"CUX1","s":"s9","v":-0.9},{"g":"CUX1","s":"s10","v":-0.3},{"g":"CUX1","s":"s11","v":0.8},{"g":"CUX1","s":"s12","v":-2},{"g":"CUX1","s":"s13","v":-0.4},{"g":"CUX1","s":"s14","v":-0.5},{"g":"CUX1","s":"s15","v":1.7},{"g":"CUX1","s":"s16","v":2.3},{"g":"CUX1","s":"s17","v":0.7},{"g":"CUX1","s":"s18","v":0.1},{"g":"CUX1","s":"s19","v":1.3},{"g":"CUX1","s":"s20","v":1.2},{"g":"CUX1","s":"s21","v":-0.2},
{"g":"HBQ1","s":"s1","v":-0.5},{"g":"HBQ1","s":"s2","v":-0.2},{"g":"HBQ1","s":"s3","v":0},{"g":"HBQ1","s":"s4","v":-1.6},{"g":"HBQ1","s":"s5","v":0},{"g":"HBQ1","s":"s6","v":0.1},{"g":"HBQ1","s":"s7","v":-0.9},{"g":"HBQ1","s":"s8","v":-0.9},{"g":"HBQ1","s":"s9","v":-0.9},{"g":"HBQ1","s":"s10","v":-1.6},{"g":"HBQ1","s":"s11","v":-0.7},{"g":"HBQ1","s":"s12","v":0},{"g":"HBQ1","s":"s13","v":-0.3},{"g":"HBQ1","s":"s14","v":0.5},{"g":"HBQ1","s":"s15","v":1.7},{"g":"HBQ1","s":"s16","v":0.1},{"g":"HBQ1","s":"s17","v":-0.4},{"g":"HBQ1","s":"s18","v":2},{"g":"HBQ1","s":"s19","v":2.2},{"g":"HBQ1","s":"s20","v":1.3},{"g":"HBQ1","s":"s21","v":-0.2},
{"g":"PSMD8","s":"s1","v":-0.5},{"g":"PSMD8","s":"s2","v":-0.9},{"g":"PSMD8","s":"s3","v":-0.3},{"g":"PSMD8","s":"s4","v":-1.2},{"g":"PSMD8","s":"s5","v":-1.2},{"g":"PSMD8","s":"s6","v":-1.2},{"g":"PSMD8","s":"s7","v":-0.2},{"g":"PSMD8","s":"s8","v":-1.5},{"g":"PSMD8","s":"s9","v":-0.8},{"g":"PSMD8","s":"s10","v":0.8},{"g":"PSMD8","s":"s11","v":-0.6},{"g":"PSMD8","s":"s12","v":-0.1},{"g":"PSMD8","s":"s13","v":0},{"g":"PSMD8","s":"s14","v":-0.4},{"g":"PSMD8","s":"s15","v":0.7},{"g":"PSMD8","s":"s16","v":0.6},{"g":"PSMD8","s":"s17","v":-0.5},{"g":"PSMD8","s":"s18","v":1.9},{"g":"PSMD8","s":"s19","v":0.9},{"g":"PSMD8","s":"s20","v":3},{"g":"PSMD8","s":"s21","v":0.7},
{"g":"STAM2","s":"s1","v":0.2},{"g":"STAM2","s":"s2","v":-0.2},{"g":"STAM2","s":"s3","v":-0.3},{"g":"STAM2","s":"s4","v":-0.8},{"g":"STAM2","s":"s5","v":0},{"g":"STAM2","s":"s6","v":-0.3},{"g":"STAM2","s":"s7","v":-2.4},{"g":"STAM2","s":"s8","v":-2.7},{"g":"STAM2","s":"s9","v":-0.3},{"g":"STAM2","s":"s10","v":-0.8},{"g":"STAM2","s":"s11","v":0},{"g":"STAM2","s":"s12","v":0.2},{"g":"STAM2","s":"s13","v":0.2},{"g":"STAM2","s":"s14","v":0.4},{"g":"STAM2","s":"s15","v":1.4},{"g":"STAM2","s":"s16","v":2.8},{"g":"STAM2","s":"s17","v":0},{"g":"STAM2","s":"s18","v":-1},{"g":"STAM2","s":"s19","v":1.3},{"g":"STAM2","s":"s20","v":0.3},{"g":"STAM2","s":"s21","v":0.8},
{"g":"HDGFL2","s":"s1","v":0.5},{"g":"HDGFL2","s":"s2","v":-0.1},{"g":"HDGFL2","s":"s3","v":0.2},{"g":"HDGFL2","s":"s4","v":0.1},{"g":"HDGFL2","s":"s5","v":0.1},{"g":"HDGFL2","s":"s6","v":0.2},{"g":"HDGFL2","s":"s7","v":-2.6},{"g":"HDGFL2","s":"s8","v":-3},{"g":"HDGFL2","s":"s9","v":-0.3},{"g":"HDGFL2","s":"s10","v":-2.4},{"g":"HDGFL2","s":"s11","v":0.5},{"g":"HDGFL2","s":"s12","v":0.5},{"g":"HDGFL2","s":"s13","v":0.3},{"g":"HDGFL2","s":"s14","v":0.7},{"g":"HDGFL2","s":"s15","v":1.2},{"g":"HDGFL2","s":"s16","v":1.2},{"g":"HDGFL2","s":"s17","v":0.4},{"g":"HDGFL2","s":"s18","v":-0.1},{"g":"HDGFL2","s":"s19","v":0.8},{"g":"HDGFL2","s":"s20","v":0.5},{"g":"HDGFL2","s":"s21","v":0},
{"g":"SYNGP1","s":"s1","v":1.2},{"g":"SYNGP1","s":"s2","v":-2},{"g":"SYNGP1","s":"s3","v":-2.6},{"g":"SYNGP1","s":"s4","v":-0.1},{"g":"SYNGP1","s":"s5","v":0},{"g":"SYNGP1","s":"s6","v":-0.3},{"g":"SYNGP1","s":"s7","v":-1.5},{"g":"SYNGP1","s":"s8","v":-1.9},{"g":"SYNGP1","s":"s9","v":-1},{"g":"SYNGP1","s":"s10","v":-0.4},{"g":"SYNGP1","s":"s11","v":0.1},{"g":"SYNGP1","s":"s12","v":1},{"g":"SYNGP1","s":"s13","v":0.4},{"g":"SYNGP1","s":"s14","v":0.4},{"g":"SYNGP1","s":"s15","v":0.3},{"g":"SYNGP1","s":"s16","v":1.4},{"g":"SYNGP1","s":"s17","v":0.1},{"g":"SYNGP1","s":"s18","v":-1},{"g":"SYNGP1","s":"s19","v":1.2},{"g":"SYNGP1","s":"s20","v":0.9},{"g":"SYNGP1","s":"s21","v":0.6},
{"g":"DCUN1D1","s":"s1","v":0.3},{"g":"DCUN1D1","s":"s2","v":0.2},{"g":"DCUN1D1","s":"s3","v":-2.6},{"g":"DCUN1D1","s":"s4","v":-0.1},{"g":"DCUN1D1","s":"s5","v":0},{"g":"DCUN1D1","s":"s6","v":0.1},{"g":"DCUN1D1","s":"s7","v":-1.5},{"g":"DCUN1D1","s":"s8","v":-1},{"g":"DCUN1D1","s":"s9","v":0},{"g":"DCUN1D1","s":"s10","v":-2.6},{"g":"DCUN1D1","s":"s11","v":0.1},{"g":"DCUN1D1","s":"s12","v":-0.1},{"g":"DCUN1D1","s":"s13","v":1},{"g":"DCUN1D1","s":"s14","v":1},{"g":"DCUN1D1","s":"s15","v":0.7},{"g":"DCUN1D1","s":"s16","v":1.3},{"g":"DCUN1D1","s":"s17","v":-1.2},{"g":"DCUN1D1","s":"s18","v":0},{"g":"DCUN1D1","s":"s19","v":0.9},{"g":"DCUN1D1","s":"s20","v":-0.1},{"g":"DCUN1D1","s":"s21","v":1.3},
{"g":"ANP32E","s":"s1","v":0.4},{"g":"ANP32E","s":"s2","v":-0.2},{"g":"ANP32E","s":"s3","v":-0.1},{"g":"ANP32E","s":"s4","v":-0.4},{"g":"ANP32E","s":"s5","v":-1.6},{"g":"ANP32E","s":"s6","v":-1.4},{"g":"ANP32E","s":"s7","v":-0.2},{"g":"ANP32E","s":"s8","v":-0.1},{"g":"ANP32E","s":"s9","v":-0.1},{"g":"ANP32E","s":"s10","v":-3.3},{"g":"ANP32E","s":"s11","v":0.9},{"g":"ANP32E","s":"s12","v":0.1},{"g":"ANP32E","s":"s13","v":-0.8},{"g":"ANP32E","s":"s14","v":1},{"g":"ANP32E","s":"s15","v":1},{"g":"ANP32E","s":"s16","v":2.2},{"g":"ANP32E","s":"s17","v":0},{"g":"ANP32E","s":"s18","v":0},{"g":"ANP32E","s":"s19","v":1},{"g":"ANP32E","s":"s20","v":0.3},{"g":"ANP32E","s":"s21","v":-0.1},
{"g":"EIF4G1","s":"s1","v":-0.1},{"g":"EIF4G1","s":"s2","v":-1.5},{"g":"EIF4G1","s":"s3","v":0.5},{"g":"EIF4G1","s":"s4","v":-2},{"g":"EIF4G1","s":"s5","v":-1.7},{"g":"EIF4G1","s":"s6","v":0.5},{"g":"EIF4G1","s":"s7","v":-0.2},{"g":"EIF4G1","s":"s8","v":0.1},{"g":"EIF4G1","s":"s9","v":-2.8},{"g":"EIF4G1","s":"s10","v":-0.8},{"g":"EIF4G1","s":"s11","v":0.4},{"g":"EIF4G1","s":"s12","v":0.9},{"g":"EIF4G1","s":"s13","v":0.5},{"g":"EIF4G1","s":"s14","v":0.3},{"g":"EIF4G1","s":"s15","v":0},{"g":"EIF4G1","s":"s16","v":1.2},{"g":"EIF4G1","s":"s17","v":1.2},{"g":"EIF4G1","s":"s18","v":-0.8},{"g":"EIF4G1","s":"s19","v":1.5},{"g":"EIF4G1","s":"s20","v":0.5},{"g":"EIF4G1","s":"s21","v":-0.2},
{"g":"EIF2S2","s":"s1","v":0.4},{"g":"EIF2S2","s":"s2","v":-0.9},{"g":"EIF2S2","s":"s3","v":0.3},{"g":"EIF2S2","s":"s4","v":-2},{"g":"EIF2S2","s":"s5","v":-2},{"g":"EIF2S2","s":"s6","v":-1.2},{"g":"EIF2S2","s":"s7","v":-0.1},{"g":"EIF2S2","s":"s8","v":0.1},{"g":"EIF2S2","s":"s9","v":-1.6},{"g":"EIF2S2","s":"s10","v":-1},{"g":"EIF2S2","s":"s11","v":0.2},{"g":"EIF2S2","s":"s12","v":0.9},{"g":"EIF2S2","s":"s13","v":0.3},{"g":"EIF2S2","s":"s14","v":0.1},{"g":"EIF2S2","s":"s15","v":0.5},{"g":"EIF2S2","s":"s16","v":1.8},{"g":"EIF2S2","s":"s17","v":0.6},{"g":"EIF2S2","s":"s18","v":-1.7},{"g":"EIF2S2","s":"s19","v":1.2},{"g":"EIF2S2","s":"s20","v":1.8},{"g":"EIF2S2","s":"s21","v":-0.6},
{"g":"SPTBN2","s":"s1","v":-1},{"g":"SPTBN2","s":"s2","v":-1.4},{"g":"SPTBN2","s":"s3","v":-0.7},{"g":"SPTBN2","s":"s4","v":0.1},{"g":"SPTBN2","s":"s5","v":-0.7},{"g":"SPTBN2","s":"s6","v":-1.1},{"g":"SPTBN2","s":"s7","v":0.4},{"g":"SPTBN2","s":"s8","v":-0.7},{"g":"SPTBN2","s":"s9","v":-1},{"g":"SPTBN2","s":"s10","v":-1.2},{"g":"SPTBN2","s":"s11","v":0.3},{"g":"SPTBN2","s":"s12","v":0.2},{"g":"SPTBN2","s":"s13","v":-1.5},{"g":"SPTBN2","s":"s14","v":0.2},{"g":"SPTBN2","s":"s15","v":0.2},{"g":"SPTBN2","s":"s16","v":0.4},{"g":"SPTBN2","s":"s17","v":3},{"g":"SPTBN2","s":"s18","v":-0.3},{"g":"SPTBN2","s":"s19","v":-0.3},{"g":"SPTBN2","s":"s20","v":1.6},{"g":"SPTBN2","s":"s21","v":2.5},
{"g":"ITGAM","s":"s1","v":-0.6},{"g":"ITGAM","s":"s2","v":-1.4},{"g":"ITGAM","s":"s3","v":0},{"g":"ITGAM","s":"s4","v":-2.1},{"g":"ITGAM","s":"s5","v":-1.5},{"g":"ITGAM","s":"s6","v":0},{"g":"ITGAM","s":"s7","v":-1},{"g":"ITGAM","s":"s8","v":-2.6},{"g":"ITGAM","s":"s9","v":1.1},{"g":"ITGAM","s":"s10","v":0.3},{"g":"ITGAM","s":"s11","v":-0.4},{"g":"ITGAM","s":"s12","v":1},{"g":"ITGAM","s":"s13","v":0.9},{"g":"ITGAM","s":"s14","v":0.1},{"g":"ITGAM","s":"s15","v":-0.9},{"g":"ITGAM","s":"s16","v":0.5},{"g":"ITGAM","s":"s17","v":0.3},{"g":"ITGAM","s":"s18","v":0.4},{"g":"ITGAM","s":"s19","v":0.8},{"g":"ITGAM","s":"s20","v":0.4},{"g":"ITGAM","s":"s21","v":1.5},
{"g":"NDUFS1","s":"s1","v":0.7},{"g":"NDUFS1","s":"s2","v":-1.6},{"g":"NDUFS1","s":"s3","v":0},{"g":"NDUFS1","s":"s4","v":-1.6},{"g":"NDUFS1","s":"s5","v":-1.6},{"g":"NDUFS1","s":"s6","v":-1.4},{"g":"NDUFS1","s":"s7","v":0.2},{"g":"NDUFS1","s":"s8","v":-3},{"g":"NDUFS1","s":"s9","v":0.3},{"g":"NDUFS1","s":"s10","v":-0.2},{"g":"NDUFS1","s":"s11","v":0.9},{"g":"NDUFS1","s":"s12","v":0.7},{"g":"NDUFS1","s":"s13","v":-0.1},{"g":"NDUFS1","s":"s14","v":-0.4},{"g":"NDUFS1","s":"s15","v":0.6},{"g":"NDUFS1","s":"s16","v":0.7},{"g":"NDUFS1","s":"s17","v":1},{"g":"NDUFS1","s":"s18","v":-1.6},{"g":"NDUFS1","s":"s19","v":1.1},{"g":"NDUFS1","s":"s20","v":0.8},{"g":"NDUFS1","s":"s21","v":0.8}
]},"mark":{"type":"rect"},"encoding":{"x":{"field":"s","type":"nominal","sort":null,"scale":{"domain":["s1","s2","s3","s4","s5","s6","s7","s8","s9","s10","s11","s12","s13","s14","s15","s16","s17","s18","s19","s20","s21"],"range":[72.6,631.4],"paddingInner":0,"paddingOuter":0},"axis":null},"y":{"field":"g","type":"nominal","sort":null,"title":null,"scale":{"domain":["IGLC2","COL16A1","NBAS","SEC24C","FMNL2","RRM1","APMCX2","SEC23A","LCP2","BCAT1","SFRP2","VWA8","CUX1","HBQ1","PSMD8","STAM2","HDGFL2","SYNGP1","DCUN1D1","ANP32E","EIF4G1","EIF2S2","SPTBN2","ITGAM","NDUFS1"],"range":[1631.7,2395],"paddingInner":0,"paddingOuter":0},"axis":{"orient":"right","offset":-1018.6,"domain":false,"ticks":false,"labelFontSize":10.5,"labelFontWeight":"bold","labelPadding":3,"labelColor":"#222"}},"color":{"field":"v","type":"quantitative","scale":{"domain":[-3,-1.5,0,1.5,3],"range":["#00df00","#006000","#000000","#600000","#df0000"]},"legend":{"orient":"none","legendX":698,"legendY":1608.3,"direction":"vertical","title":null,"gradientLength":287,"gradientThickness":13,"values":[2,1,0,-1,-2],"labelFontSize":10,"labelColor":"#444","labelOverlap":false}}}},
{"data":{"values":[{"c":"s1","k":"MGI","t":"class"},{"c":"s2","k":"MGI","t":"class"},{"c":"s3","k":"MGI","t":"class"},{"c":"s4","k":"MGI","t":"class"},{"c":"s5","k":"MGI","t":"class"},{"c":"s6","k":"MGI","t":"class"},{"c":"s7","k":"MGI","t":"class"},{"c":"s8","k":"MGI","t":"class"},{"c":"s9","k":"MGI","t":"class"},{"c":"s10","k":"MGI","t":"class"},{"c":"s11","k":"MGII","t":"class"},{"c":"s12","k":"MGII","t":"class"},{"c":"s13","k":"MGII","t":"class"},{"c":"s14","k":"MGII","t":"class"},{"c":"s15","k":"MGII","t":"class"},{"c":"s16","k":"MGII","t":"class"},{"c":"s17","k":"MGII","t":"class"},{"c":"s18","k":"MGII","t":"class"},{"c":"s19","k":"MGII","t":"class"},{"c":"s20","k":"MGII","t":"class"},{"c":"s21","k":"MGII","t":"class"}]},"mark":{"type":"rect"},"encoding":{"x":{"field":"c","type":"nominal","sort":null,"scale":{"domain":["s1","s2","s3","s4","s5","s6","s7","s8","s9","s10","s11","s12","s13","s14","s15","s16","s17","s18","s19","s20","s21"],"range":[72.6,631.4],"paddingInner":0,"paddingOuter":0},"axis":null},"y":{"field":"t","type":"nominal","title":null,"scale":{"domain":["class"],"range":[1612.3,1629],"paddingInner":0,"paddingOuter":0},"axis":{"orient":"right","offset":-1018.6,"domain":false,"ticks":false,"labelFontSize":11,"labelFontWeight":"bold","labelPadding":3}},"color":{"field":"k","type":"nominal","scale":{"domain":["MGI","MGII"],"range":["#ff0000","#00b400"]},"legend":null}}},
{"data":{"values":[{"a":1,"b":10.8,"h":140,"l":33,"r":78},{"a":0.5,"b":1.5,"h":33,"l":0,"r":0},{"a":5.4,"b":16.2,"h":78,"l":55,"r":63},{"a":3.3,"b":7.4,"h":55,"l":36,"r":45},{"a":3.5,"b":4.5,"h":28,"l":0,"r":0},{"a":2.5,"b":4,"h":36,"l":0,"r":28},{"a":5.5,"b":6.5,"h":28,"l":0,"r":0},{"a":7.5,"b":8.5,"h":28,"l":0,"r":0},{"a":9.5,"b":10.5,"h":28,"l":0,"r":0},{"a":8,"b":10,"h":40,"l":28,"r":28},{"a":6,"b":9,"h":45,"l":28,"r":40},{"a":13,"b":19.4,"h":63,"l":38,"r":58},{"a":11.5,"b":12.5,"h":28,"l":0,"r":0},{"a":13.5,"b":14.5,"h":28,"l":0,"r":0},{"a":12,"b":14,"h":38,"l":28,"r":28},{"a":15.5,"b":16.5,"h":20,"l":0,"r":0},{"a":17.5,"b":18.5,"h":28,"l":0,"r":0},{"a":16,"b":18,"h":32,"l":20,"r":28},{"a":20.5,"b":21.5,"h":20,"l":0,"r":0},{"a":19.5,"b":21,"h":36,"l":0,"r":20},{"a":23.5,"b":24.5,"h":30,"l":0,"r":0},{"a":22.5,"b":24,"h":40,"l":0,"r":30},{"a":20.3,"b":23.2,"h":50,"l":36,"r":40},{"a":17,"b":21.7,"h":58,"l":32,"r":50}]},"layer":[{"mark":{"type":"rule","color":"#333","strokeWidth":1.5},"encoding":{"y":{"field":"a","type":"quantitative","scale":{"domain":[0,25],"range":[1631.7,2395],"nice":false,"zero":false},"axis":null},"y2":{"field":"b"},"x":{"field":"h","type":"quantitative","scale":{"domain":[0,158],"range":[72.6,0],"nice":false,"zero":false},"axis":null}}},{"mark":{"type":"rule","color":"#333","strokeWidth":1.5},"encoding":{"y":{"field":"a","type":"quantitative","scale":{"domain":[0,25],"range":[1631.7,2395],"nice":false,"zero":false},"axis":null},"x":{"field":"h","type":"quantitative","scale":{"domain":[0,158],"range":[72.6,0],"nice":false,"zero":false},"axis":null},"x2":{"field":"l"}}},{"mark":{"type":"rule","color":"#333","strokeWidth":1.5},"encoding":{"y":{"field":"b","type":"quantitative","scale":{"domain":[0,25],"range":[1631.7,2395],"nice":false,"zero":false},"axis":null},"x":{"field":"h","type":"quantitative","scale":{"domain":[0,158],"range":[72.6,0],"nice":false,"zero":false},"axis":null},"x2":{"field":"r"}}}]},
{"data":{"values":[{"t":"F","x":-2,"y":46}]},"mark":{"type":"text","fontSize":30,"fontWeight":"bold","color":"#000"},"encoding":{"text":{"field":"t"},"x":{"field":"x","type":"quantitative","scale":{"domain":[0,21],"range":[72.6,631.4],"nice":false,"zero":false},"axis":null},"y":{"field":"y","type":"quantitative","scale":{"domain":[0,100],"range":[1603,1503],"nice":false,"zero":false},"axis":null}}},
{"data":{"values":[{"t":"MGI","x":4.18,"y":19},{"t":"MGII","x":14.74,"y":21}]},"mark":{"type":"text","fontSize":20,"color":"#111"},"encoding":{"text":{"field":"t"},"x":{"field":"x","type":"quantitative","scale":{"domain":[0,21],"range":[72.6,631.4],"nice":false,"zero":false},"axis":null},"y":{"field":"y","type":"quantitative","scale":{"domain":[0,100],"range":[1603,1503],"nice":false,"zero":false},"axis":null}}},
{"encoding":{"x":{"field":"x","type":"quantitative","title":null,"scale":{"domain":[0.505,2.49],"range":[847.4,1120],"nice":false,"zero":false},"axis":{"orient":"bottom","offset":-485.3,"values":[1,2],"labelExpr":"datum.value==1?'MGI':'MGII'","domainWidth":2.5,"domainColor":"#111","tickWidth":2,"tickColor":"#111","tickSize":5,"labelFontSize":14,"labelPadding":5}},"y":{"field":"y","type":"quantitative","title":"Log2 Normalized Abundance","scale":{"domain":[20,30],"range":[1931.7,1700],"nice":false,"zero":false},"axis":{"orient":"left","offset":-847.4,"values":[20,22,24,26,28,30],"domainWidth":2,"domainColor":"#111","tickWidth":2,"tickColor":"#111","tickSize":4,"labelFontSize":14,"labelFontWeight":"bold","labelPadding":1,"titleFontSize":18,"titleFontWeight":"bold","titleX":-93.9,"titleY":1829,"titleBaseline":"middle"}}},"layer":[
{"data":{"values":[{"g":"MGI","x":0.667,"y":24.42,"x2":1.338,"y2":24.42},{"g":"MGI","x":0.833,"y":24.79,"x2":1.171,"y2":24.79},{"g":"MGI","x":0.833,"y":24.07,"x2":1.171,"y2":24.07},{"g":"MGI","x":1,"y":24.07,"x2":1,"y2":24.79},{"g":"MGII","x":1.671,"y":25.75,"x2":2.342,"y2":25.75},{"g":"MGII","x":1.838,"y":26.04,"x2":2.171,"y2":26.04},{"g":"MGII","x":1.838,"y":25.47,"x2":2.171,"y2":25.47},{"g":"MGII","x":2,"y":25.47,"x2":2,"y2":26.04}]},"mark":{"type":"rule","strokeWidth":2},"encoding":{"x2":{"field":"x2"},"y2":{"field":"y2"},"color":{"field":"g","type":"nominal","scale":{"domain":["MGI","MGII"],"range":["#0000e6","#e60000"]},"legend":null}}},
{"data":{"values":[{"g":"MGI","x":1,"y":26.59},{"g":"MGI","x":1,"y":25.61},{"g":"MGI","x":1.034,"y":25.08},{"g":"MGI","x":0.962,"y":24.96},{"g":"MGI","x":0.889,"y":24.42},{"g":"MGI","x":1,"y":24.27},{"g":"MGI","x":1.124,"y":24.03},{"g":"MGI","x":0.962,"y":24.1},{"g":"MGI","x":1.034,"y":23.78},{"g":"MGI","x":1.034,"y":22.88},{"g":"MGI","x":0.962,"y":22.73},{"g":"MGII","x":2,"y":27.12},{"g":"MGII","x":2.077,"y":26.72},{"g":"MGII","x":1.923,"y":26.4},{"g":"MGII","x":2,"y":26.3},{"g":"MGII","x":1.85,"y":25.83},{"g":"MGII","x":1.923,"y":25.83},{"g":"MGII","x":2.077,"y":25.83},{"g":"MGII","x":2.128,"y":25.75},{"g":"MGII","x":1.85,"y":25.7},{"g":"MGII","x":1.923,"y":25.57},{"g":"MGII","x":2,"y":25.47},{"g":"MGII","x":1.957,"y":25.18},{"g":"MGII","x":2.043,"y":24.82},{"g":"MGII","x":2,"y":24.17}]},"mark":{"type":"point","filled":true,"opacity":1,"size":85},"encoding":{"color":{"field":"g","type":"nominal","scale":{"domain":["MGI","MGII"],"range":["#0000e6","#e60000"]},"legend":null},"shape":{"field":"g","type":"nominal","scale":{"domain":["MGI","MGII"],"range":["circle","square"]},"legend":null}}},
{"data":{"values":[{"x":0.66,"y":29.06,"x2":2.35,"y2":29.06}]},"mark":{"type":"rule","color":"#111","strokeWidth":2.2},"encoding":{"x2":{"field":"x2"},"y2":{"field":"y2"}}},
{"data":{"values":[{"t":"**","x":1.44,"y":30.1}]},"mark":{"type":"text","fontSize":10,"fontWeight":"bold","color":"#555"},"encoding":{"text":{"field":"t"}}},
{"data":{"values":[{"t":"ITGAM","x":1.5,"y":31.65}]},"mark":{"type":"text","fontSize":30,"color":"#111"},"encoding":{"text":{"field":"t"}}},
{"data":{"values":[{"t":"G","x":0.262,"y":35.44}]},"mark":{"type":"text","fontSize":30,"fontWeight":"bold","color":"#000"},"encoding":{"text":{"field":"t"}}}
]},
{"encoding":{"x":{"field":"x","type":"quantitative","title":null,"scale":{"domain":[0.503,2.516],"range":[1258,1582],"nice":false,"zero":false},"axis":{"orient":"bottom","offset":-485.3,"values":[1,2],"labelExpr":"datum.value==1?'MGI':'MGII'","domainWidth":2.5,"domainColor":"#111","tickWidth":2,"tickColor":"#111","tickSize":6,"labelFontSize":23,"labelPadding":4}},"y":{"field":"y","type":"quantitative","title":"Log2 Normalized Abundance","scale":{"domain":[22,30],"range":[1931.7,1702.7],"nice":false,"zero":false},"axis":{"orient":"left","offset":-1258,"values":[22,24,26,28,30],"domainWidth":2,"domainColor":"#111","tickWidth":2,"tickColor":"#111","tickSize":4,"labelFontSize":14,"labelFontWeight":"bold","labelPadding":1,"titleFontSize":18,"titleFontWeight":"bold","titleX":-61.5,"titleY":1825,"titleBaseline":"middle"}}},"layer":[
{"data":{"values":[{"g":"MGI","x":0.657,"y":25.68,"x2":1.335,"y2":25.68},{"g":"MGI","x":0.83,"y":25.93,"x2":1.17,"y2":25.93},{"g":"MGI","x":0.83,"y":25.52,"x2":1.17,"y2":25.52},{"g":"MGI","x":1,"y":25.52,"x2":1,"y2":25.93},{"g":"MGII","x":1.664,"y":26.66,"x2":2.338,"y2":26.66},{"g":"MGII","x":1.83,"y":26.83,"x2":2.17,"y2":26.83},{"g":"MGII","x":1.83,"y":26.48,"x2":2.17,"y2":26.48},{"g":"MGII","x":2,"y":26.48,"x2":2,"y2":26.83}]},"mark":{"type":"rule","strokeWidth":2},"encoding":{"x2":{"field":"x2"},"y2":{"field":"y2"},"color":{"field":"g","type":"nominal","scale":{"domain":["MGI","MGII"],"range":["#0000e6","#e60000"]},"legend":null}}},
{"data":{"values":[{"g":"MGI","x":0.883,"y":26.54},{"g":"MGI","x":1.16,"y":26.45},{"g":"MGI","x":0.964,"y":26.19},{"g":"MGI","x":1.087,"y":26.13},{"g":"MGI","x":1.044,"y":25.96},{"g":"MGI","x":0.964,"y":25.65},{"g":"MGI","x":0.923,"y":25.3},{"g":"MGI","x":1.08,"y":25.32},{"g":"MGI","x":1,"y":25.06},{"g":"MGI","x":1,"y":24.45},{"g":"MGII","x":1.926,"y":27.5},{"g":"MGII","x":2.083,"y":27.26},{"g":"MGII","x":2.006,"y":27.18},{"g":"MGII","x":2.163,"y":27},{"g":"MGII","x":1.798,"y":26.68},{"g":"MGII","x":2.09,"y":26.54},{"g":"MGII","x":1.89,"y":26.54},{"g":"MGII","x":1.999,"y":26.43},{"g":"MGII","x":1.926,"y":26.19},{"g":"MGII","x":2.083,"y":26.08},{"g":"MGII","x":2.006,"y":25.73},{"g":"MGII","x":2.083,"y":25.96}]},"mark":{"type":"point","filled":true,"opacity":1,"size":85},"encoding":{"color":{"field":"g","type":"nominal","scale":{"domain":["MGI","MGII"],"range":["#0000e6","#e60000"]},"legend":null},"shape":{"field":"g","type":"nominal","scale":{"domain":["MGI","MGII"],"range":["circle","square"]},"legend":null}}},
{"data":{"values":[{"x":0.73,"y":28.95,"x2":2.21,"y2":28.95}]},"mark":{"type":"rule","color":"#111","strokeWidth":2.2},"encoding":{"x2":{"field":"x2"},"y2":{"field":"y2"}}},
{"data":{"values":[{"t":"**","x":1.47,"y":29.95}]},"mark":{"type":"text","fontSize":14,"fontWeight":"bold","color":"#444"},"encoding":{"text":{"field":"t"}}},
{"data":{"values":[{"t":"EIF4G1","x":1.47,"y":31.34}]},"mark":{"type":"text","fontSize":28,"color":"#111"},"encoding":{"text":{"field":"t"}}}
]},
{"encoding":{"x":{"field":"x","type":"quantitative","title":null,"scale":{"domain":[0.493,2.516],"range":[809,1126],"nice":false,"zero":false},"axis":{"orient":"bottom","offset":-102.7,"values":[1,2],"labelExpr":"datum.value==1?'MGI':'MGII'","domainWidth":2.5,"domainColor":"#111","tickWidth":2,"tickColor":"#111","tickSize":5,"labelFontSize":21,"labelPadding":4}},"y":{"field":"y","type":"quantitative","title":"Log2 Normalized Abundance","scale":{"domain":[24,34],"range":[2314.3,2092.7],"nice":false,"zero":false},"axis":{"orient":"left","offset":-809,"values":[24,26,28,30,32,34],"domainWidth":2,"domainColor":"#111","tickWidth":2,"tickColor":"#111","tickSize":4,"labelFontSize":14,"labelFontWeight":"bold","labelPadding":1,"titleFontSize":18,"titleFontWeight":"bold","titleX":-60,"titleY":2215.8,"titleBaseline":"middle"}}},"layer":[
{"data":{"values":[{"g":"MGI","x":0.67,"y":30.4,"x2":1.337,"y2":30.4},{"g":"MGI","x":0.83,"y":30.7,"x2":1.17,"y2":30.7},{"g":"MGI","x":0.83,"y":30.09,"x2":1.17,"y2":30.09},{"g":"MGI","x":1,"y":30.09,"x2":1,"y2":30.7},{"g":"MGII","x":1.674,"y":28.86,"x2":2.341,"y2":28.86},{"g":"MGII","x":1.83,"y":29.13,"x2":2.17,"y2":29.13},{"g":"MGII","x":1.83,"y":28.6,"x2":2.17,"y2":28.6},{"g":"MGII","x":2,"y":28.6,"x2":2,"y2":29.13}]},"mark":{"type":"rule","strokeWidth":2},"encoding":{"x2":{"field":"x2"},"y2":{"field":"y2"},"color":{"field":"g","type":"nominal","scale":{"domain":["MGI","MGII"],"range":["#0000e6","#e60000"]},"legend":null}}},
{"data":{"values":[{"g":"MGI","x":0.966,"y":31.56},{"g":"MGI","x":1.045,"y":31.11},{"g":"MGI","x":0.846,"y":30.74},{"g":"MGI","x":0.888,"y":30.5},{"g":"MGI","x":1.169,"y":30.54},{"g":"MGI","x":1.094,"y":30.36},{"g":"MGI","x":1,"y":30.36},{"g":"MGI","x":0.97,"y":30.09},{"g":"MGI","x":1.045,"y":29.58},{"g":"MGI","x":1.007,"y":28.74},{"g":"MGII","x":1.966,"y":30.41},{"g":"MGII","x":2.049,"y":29.91},{"g":"MGII","x":2.124,"y":29.53},{"g":"MGII","x":1.884,"y":29.23},{"g":"MGII","x":2.049,"y":29.08},{"g":"MGII","x":1.966,"y":28.93},{"g":"MGII","x":1.925,"y":28.56},{"g":"MGII","x":2.086,"y":28.56},{"g":"MGII","x":2.004,"y":28.21},{"g":"MGII","x":2.045,"y":27.65},{"g":"MGII","x":1.966,"y":27.17}]},"mark":{"type":"point","filled":true,"opacity":1,"size":85},"encoding":{"color":{"field":"g","type":"nominal","scale":{"domain":["MGI","MGII"],"range":["#0000e6","#e60000"]},"legend":null},"shape":{"field":"g","type":"nominal","scale":{"domain":["MGI","MGII"],"range":["circle","square"]},"legend":null}}},
{"data":{"values":[{"x":0.655,"y":33.25,"x2":2.36,"y2":33.25}]},"mark":{"type":"rule","color":"#222","strokeWidth":2.2},"encoding":{"x2":{"field":"x2"},"y2":{"field":"y2"}}},
{"data":{"values":[{"t":"***","x":1.476,"y":34.4}]},"mark":{"type":"text","fontSize":16,"fontWeight":"bold","color":"#444"},"encoding":{"text":{"field":"t"}}},
{"data":{"values":[{"t":"IGCL2","x":1.476,"y":36}]},"mark":{"type":"text","fontSize":29,"color":"#111"},"encoding":{"text":{"field":"t"}}}
]},
{"encoding":{"x":{"field":"x","type":"quantitative","title":null,"scale":{"domain":[0.488,2.503],"range":[1269.9,1581],"nice":false,"zero":false},"axis":{"orient":"bottom","offset":-93.7,"values":[1,2],"labelExpr":"datum.value==1?'MGI':'MGII'","domainWidth":2.5,"domainColor":"#111","tickWidth":2,"tickColor":"#111","tickSize":5,"labelFontSize":20,"labelPadding":5}},"y":{"field":"y","type":"quantitative","title":"Log2 Normalized Abundance","scale":{"domain":[16,28],"range":[2323.3,2106.7],"nice":false,"zero":false},"axis":{"orient":"left","offset":-1269.9,"values":[16,18,20,22,24,26,28],"domainWidth":2,"domainColor":"#111","tickWidth":2,"tickColor":"#111","tickSize":4,"labelFontSize":14,"labelFontWeight":"bold","labelPadding":1,"titleFontSize":18,"titleFontWeight":"bold","titleX":-53.9,"titleY":2224,"titleBaseline":"middle"}}},"layer":[
{"data":{"values":[{"g":"MGI","x":0.67,"y":19.83,"x2":1.334,"y2":19.83},{"g":"MGI","x":0.83,"y":20.1,"x2":1.17,"y2":20.1},{"g":"MGI","x":0.83,"y":19.56,"x2":1.17,"y2":19.56},{"g":"MGI","x":1,"y":19.56,"x2":1,"y2":20.1},{"g":"MGII","x":1.672,"y":21.48,"x2":2.337,"y2":21.48},{"g":"MGII","x":1.83,"y":21.9,"x2":2.17,"y2":21.9},{"g":"MGII","x":1.83,"y":21.17,"x2":2.17,"y2":21.17},{"g":"MGII","x":2,"y":21.17,"x2":2,"y2":21.9}]},"mark":{"type":"rule","strokeWidth":2},"encoding":{"x2":{"field":"x2"},"y2":{"field":"y2"},"color":{"field":"g","type":"nominal","scale":{"domain":["MGI","MGII"],"range":["#0000e6","#e60000"]},"legend":null}}},
{"data":{"values":[{"g":"MGI","x":0.924,"y":20.8},{"g":"MGI","x":1.084,"y":20.65},{"g":"MGI","x":1.004,"y":20.52},{"g":"MGI","x":1.163,"y":20.1},{"g":"MGI","x":0.848,"y":19.78},{"g":"MGI","x":0.928,"y":19.78},{"g":"MGI","x":1.004,"y":19.73},{"g":"MGI","x":1.084,"y":19.73},{"g":"MGI","x":1.004,"y":19.42},{"g":"MGI","x":1.042,"y":19},{"g":"MGI","x":0.966,"y":18.36},{"g":"MGII","x":2.003,"y":24.71},{"g":"MGII","x":2.003,"y":22.96},{"g":"MGII","x":1.809,"y":21.58},{"g":"MGII","x":2.204,"y":21.39},{"g":"MGII","x":1.885,"y":21.26},{"g":"MGII","x":1.961,"y":21.2},{"g":"MGII","x":2.12,"y":21.17},{"g":"MGII","x":2.044,"y":20.98},{"g":"MGII","x":1.923,"y":20.58},{"g":"MGII","x":2.082,"y":20.1},{"g":"MGII","x":2.003,"y":20.03}]},"mark":{"type":"point","filled":true,"opacity":1,"size":85},"encoding":{"color":{"field":"g","type":"nominal","scale":{"domain":["MGI","MGII"],"range":["#0000e6","#e60000"]},"legend":null},"shape":{"field":"g","type":"nominal","scale":{"domain":["MGI","MGII"],"range":["circle","square"]},"legend":null}}},
{"data":{"values":[{"x":0.67,"y":27.52,"x2":2.41,"y2":27.52}]},"mark":{"type":"rule","color":"#333","strokeWidth":2.6},"encoding":{"x2":{"field":"x2"},"y2":{"field":"y2"}}},
{"data":{"values":[{"t":"**","x":1.456,"y":28.65}]},"mark":{"type":"text","fontSize":15,"fontWeight":"bold","color":"#444"},"encoding":{"text":{"field":"t"}}},
{"data":{"values":[{"t":"NBAS","x":1.51,"y":30.62}]},"mark":{"type":"text","fontSize":30,"color":"#111"},"encoding":{"text":{"field":"t"}}}
]}
]}
